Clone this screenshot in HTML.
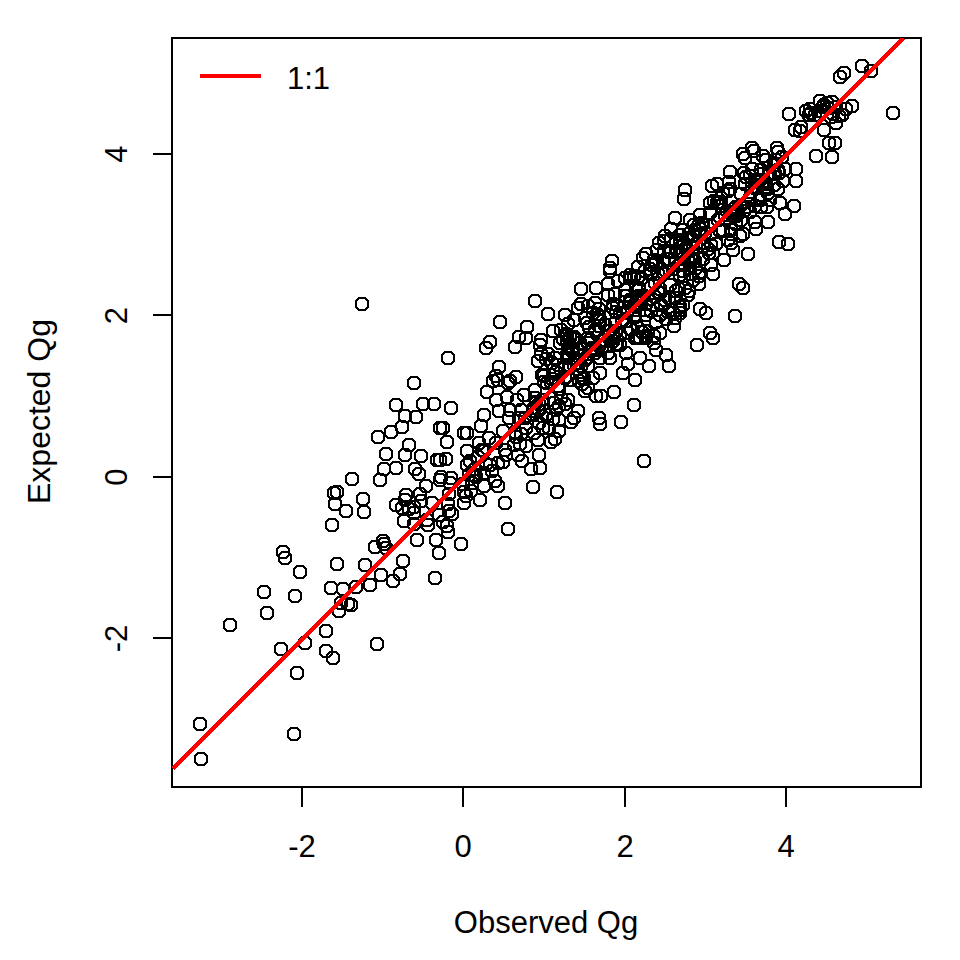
<!DOCTYPE html>
<html><head><meta charset="utf-8"><style>
html,body{margin:0;padding:0;background:#fff;width:960px;height:960px;overflow:hidden}
svg{display:block}
text{font-family:"Liberation Sans",sans-serif;font-size:31px;fill:#000}
</style></head><body>
<svg width="960" height="960" viewBox="0 0 960 960">
<rect x="0" y="0" width="960" height="960" fill="#fff"/>
<g fill="#000" shape-rendering="crispEdges"><path d="M197 752h8v1h1v1h1v1h1v8h-1v1h-1v1h-1v1h-8v-1h-1v-1h-1v-1h-1v-8h1v-1h1v-1h1zM198 754v1h-1v1h-1v6h1v1h1v1h6v-1h1v-1h1v-6h-1v-1h-1v-1zM196 717h8v1h1v1h1v1h1v8h-1v1h-1v1h-1v1h-8v-1h-1v-1h-1v-1h-1v-8h1v-1h1v-1h1zM197 719v1h-1v1h-1v6h1v1h1v1h6v-1h1v-1h1v-6h-1v-1h-1v-1zM290 727h8v1h1v1h1v1h1v8h-1v1h-1v1h-1v1h-8v-1h-1v-1h-1v-1h-1v-8h1v-1h1v-1h1zM291 729v1h-1v1h-1v6h1v1h1v1h6v-1h1v-1h1v-6h-1v-1h-1v-1zM293 666h8v1h1v1h1v1h1v8h-1v1h-1v1h-1v1h-8v-1h-1v-1h-1v-1h-1v-8h1v-1h1v-1h1zM294 668v1h-1v1h-1v6h1v1h1v1h6v-1h1v-1h1v-6h-1v-1h-1v-1zM226 618h8v1h1v1h1v1h1v8h-1v1h-1v1h-1v1h-8v-1h-1v-1h-1v-1h-1v-8h1v-1h1v-1h1zM227 620v1h-1v1h-1v6h1v1h1v1h6v-1h1v-1h1v-6h-1v-1h-1v-1zM277 642h8v1h1v1h1v1h1v8h-1v1h-1v1h-1v1h-8v-1h-1v-1h-1v-1h-1v-8h1v-1h1v-1h1zM278 644v1h-1v1h-1v6h1v1h1v1h6v-1h1v-1h1v-6h-1v-1h-1v-1zM301 636h8v1h1v1h1v1h1v8h-1v1h-1v1h-1v1h-8v-1h-1v-1h-1v-1h-1v-8h1v-1h1v-1h1zM302 638v1h-1v1h-1v6h1v1h1v1h6v-1h1v-1h1v-6h-1v-1h-1v-1zM322 624h8v1h1v1h1v1h1v8h-1v1h-1v1h-1v1h-8v-1h-1v-1h-1v-1h-1v-8h1v-1h1v-1h1zM323 626v1h-1v1h-1v6h1v1h1v1h6v-1h1v-1h1v-6h-1v-1h-1v-1zM322 644h8v1h1v1h1v1h1v8h-1v1h-1v1h-1v1h-8v-1h-1v-1h-1v-1h-1v-8h1v-1h1v-1h1zM323 646v1h-1v1h-1v6h1v1h1v1h6v-1h1v-1h1v-6h-1v-1h-1v-1zM329 651h8v1h1v1h1v1h1v8h-1v1h-1v1h-1v1h-8v-1h-1v-1h-1v-1h-1v-8h1v-1h1v-1h1zM330 653v1h-1v1h-1v6h1v1h1v1h6v-1h1v-1h1v-6h-1v-1h-1v-1zM373 637h8v1h1v1h1v1h1v8h-1v1h-1v1h-1v1h-8v-1h-1v-1h-1v-1h-1v-8h1v-1h1v-1h1zM374 639v1h-1v1h-1v6h1v1h1v1h6v-1h1v-1h1v-6h-1v-1h-1v-1zM260 585h8v1h1v1h1v1h1v8h-1v1h-1v1h-1v1h-8v-1h-1v-1h-1v-1h-1v-8h1v-1h1v-1h1zM261 587v1h-1v1h-1v6h1v1h1v1h6v-1h1v-1h1v-6h-1v-1h-1v-1zM263 606h8v1h1v1h1v1h1v8h-1v1h-1v1h-1v1h-8v-1h-1v-1h-1v-1h-1v-8h1v-1h1v-1h1zM264 608v1h-1v1h-1v6h1v1h1v1h6v-1h1v-1h1v-6h-1v-1h-1v-1zM291 589h8v1h1v1h1v1h1v8h-1v1h-1v1h-1v1h-8v-1h-1v-1h-1v-1h-1v-8h1v-1h1v-1h1zM292 591v1h-1v1h-1v6h1v1h1v1h6v-1h1v-1h1v-6h-1v-1h-1v-1zM296 565h8v1h1v1h1v1h1v8h-1v1h-1v1h-1v1h-8v-1h-1v-1h-1v-1h-1v-8h1v-1h1v-1h1zM297 567v1h-1v1h-1v6h1v1h1v1h6v-1h1v-1h1v-6h-1v-1h-1v-1zM279 545h8v1h1v1h1v1h1v8h-1v1h-1v1h-1v1h-8v-1h-1v-1h-1v-1h-1v-8h1v-1h1v-1h1zM280 547v1h-1v1h-1v6h1v1h1v1h6v-1h1v-1h1v-6h-1v-1h-1v-1zM281 551h8v1h1v1h1v1h1v8h-1v1h-1v1h-1v1h-8v-1h-1v-1h-1v-1h-1v-8h1v-1h1v-1h1zM282 553v1h-1v1h-1v6h1v1h1v1h6v-1h1v-1h1v-6h-1v-1h-1v-1zM328 518h8v1h1v1h1v1h1v8h-1v1h-1v1h-1v1h-8v-1h-1v-1h-1v-1h-1v-8h1v-1h1v-1h1zM329 520v1h-1v1h-1v6h1v1h1v1h6v-1h1v-1h1v-6h-1v-1h-1v-1zM333 557h8v1h1v1h1v1h1v8h-1v1h-1v1h-1v1h-8v-1h-1v-1h-1v-1h-1v-8h1v-1h1v-1h1zM334 559v1h-1v1h-1v6h1v1h1v1h6v-1h1v-1h1v-6h-1v-1h-1v-1zM327 581h8v1h1v1h1v1h1v8h-1v1h-1v1h-1v1h-8v-1h-1v-1h-1v-1h-1v-8h1v-1h1v-1h1zM328 583v1h-1v1h-1v6h1v1h1v1h6v-1h1v-1h1v-6h-1v-1h-1v-1zM339 582h8v1h1v1h1v1h1v8h-1v1h-1v1h-1v1h-8v-1h-1v-1h-1v-1h-1v-8h1v-1h1v-1h1zM340 584v1h-1v1h-1v6h1v1h1v1h6v-1h1v-1h1v-6h-1v-1h-1v-1zM352 580h8v1h1v1h1v1h1v8h-1v1h-1v1h-1v1h-8v-1h-1v-1h-1v-1h-1v-8h1v-1h1v-1h1zM353 582v1h-1v1h-1v6h1v1h1v1h6v-1h1v-1h1v-6h-1v-1h-1v-1zM366 578h8v1h1v1h1v1h1v8h-1v1h-1v1h-1v1h-8v-1h-1v-1h-1v-1h-1v-8h1v-1h1v-1h1zM367 580v1h-1v1h-1v6h1v1h1v1h6v-1h1v-1h1v-6h-1v-1h-1v-1zM361 558h8v1h1v1h1v1h1v8h-1v1h-1v1h-1v1h-8v-1h-1v-1h-1v-1h-1v-8h1v-1h1v-1h1zM362 560v1h-1v1h-1v6h1v1h1v1h6v-1h1v-1h1v-6h-1v-1h-1v-1zM377 568h8v1h1v1h1v1h1v8h-1v1h-1v1h-1v1h-8v-1h-1v-1h-1v-1h-1v-8h1v-1h1v-1h1zM378 570v1h-1v1h-1v6h1v1h1v1h6v-1h1v-1h1v-6h-1v-1h-1v-1zM389 574h8v1h1v1h1v1h1v8h-1v1h-1v1h-1v1h-8v-1h-1v-1h-1v-1h-1v-8h1v-1h1v-1h1zM390 576v1h-1v1h-1v6h1v1h1v1h6v-1h1v-1h1v-6h-1v-1h-1v-1zM396 567h8v1h1v1h1v1h1v8h-1v1h-1v1h-1v1h-8v-1h-1v-1h-1v-1h-1v-8h1v-1h1v-1h1zM397 569v1h-1v1h-1v6h1v1h1v1h6v-1h1v-1h1v-6h-1v-1h-1v-1zM399 554h8v1h1v1h1v1h1v8h-1v1h-1v1h-1v1h-8v-1h-1v-1h-1v-1h-1v-8h1v-1h1v-1h1zM400 556v1h-1v1h-1v6h1v1h1v1h6v-1h1v-1h1v-6h-1v-1h-1v-1zM371 540h8v1h1v1h1v1h1v8h-1v1h-1v1h-1v1h-8v-1h-1v-1h-1v-1h-1v-8h1v-1h1v-1h1zM372 542v1h-1v1h-1v6h1v1h1v1h6v-1h1v-1h1v-6h-1v-1h-1v-1zM379 534h8v1h1v1h1v1h1v8h-1v1h-1v1h-1v1h-8v-1h-1v-1h-1v-1h-1v-8h1v-1h1v-1h1zM380 536v1h-1v1h-1v6h1v1h1v1h6v-1h1v-1h1v-6h-1v-1h-1v-1zM382 541h8v1h1v1h1v1h1v8h-1v1h-1v1h-1v1h-8v-1h-1v-1h-1v-1h-1v-8h1v-1h1v-1h1zM383 543v1h-1v1h-1v6h1v1h1v1h6v-1h1v-1h1v-6h-1v-1h-1v-1zM400 514h8v1h1v1h1v1h1v8h-1v1h-1v1h-1v1h-8v-1h-1v-1h-1v-1h-1v-8h1v-1h1v-1h1zM401 516v1h-1v1h-1v6h1v1h1v1h6v-1h1v-1h1v-6h-1v-1h-1v-1zM337 596h8v1h1v1h1v1h1v8h-1v1h-1v1h-1v1h-8v-1h-1v-1h-1v-1h-1v-8h1v-1h1v-1h1zM338 598v1h-1v1h-1v6h1v1h1v1h6v-1h1v-1h1v-6h-1v-1h-1v-1zM344 597h8v1h1v1h1v1h1v8h-1v1h-1v1h-1v1h-8v-1h-1v-1h-1v-1h-1v-8h1v-1h1v-1h1zM345 599v1h-1v1h-1v6h1v1h1v1h6v-1h1v-1h1v-6h-1v-1h-1v-1zM347 598h8v1h1v1h1v1h1v8h-1v1h-1v1h-1v1h-8v-1h-1v-1h-1v-1h-1v-8h1v-1h1v-1h1zM348 600v1h-1v1h-1v6h1v1h1v1h6v-1h1v-1h1v-6h-1v-1h-1v-1zM335 604h8v1h1v1h1v1h1v8h-1v1h-1v1h-1v1h-8v-1h-1v-1h-1v-1h-1v-8h1v-1h1v-1h1zM336 606v1h-1v1h-1v6h1v1h1v1h6v-1h1v-1h1v-6h-1v-1h-1v-1zM342 504h8v1h1v1h1v1h1v8h-1v1h-1v1h-1v1h-8v-1h-1v-1h-1v-1h-1v-8h1v-1h1v-1h1zM343 506v1h-1v1h-1v6h1v1h1v1h6v-1h1v-1h1v-6h-1v-1h-1v-1zM360 505h8v1h1v1h1v1h1v8h-1v1h-1v1h-1v1h-8v-1h-1v-1h-1v-1h-1v-8h1v-1h1v-1h1zM361 507v1h-1v1h-1v6h1v1h1v1h6v-1h1v-1h1v-6h-1v-1h-1v-1zM358 297h8v1h1v1h1v1h1v8h-1v1h-1v1h-1v1h-8v-1h-1v-1h-1v-1h-1v-8h1v-1h1v-1h1zM359 299v1h-1v1h-1v6h1v1h1v1h6v-1h1v-1h1v-6h-1v-1h-1v-1zM392 398h8v1h1v1h1v1h1v8h-1v1h-1v1h-1v1h-8v-1h-1v-1h-1v-1h-1v-8h1v-1h1v-1h1zM393 400v1h-1v1h-1v6h1v1h1v1h6v-1h1v-1h1v-6h-1v-1h-1v-1zM401 409h8v1h1v1h1v1h1v8h-1v1h-1v1h-1v1h-8v-1h-1v-1h-1v-1h-1v-8h1v-1h1v-1h1zM402 411v1h-1v1h-1v6h1v1h1v1h6v-1h1v-1h1v-6h-1v-1h-1v-1zM398 420h8v1h1v1h1v1h1v8h-1v1h-1v1h-1v1h-8v-1h-1v-1h-1v-1h-1v-8h1v-1h1v-1h1zM399 422v1h-1v1h-1v6h1v1h1v1h6v-1h1v-1h1v-6h-1v-1h-1v-1zM387 425h8v1h1v1h1v1h1v8h-1v1h-1v1h-1v1h-8v-1h-1v-1h-1v-1h-1v-8h1v-1h1v-1h1zM388 427v1h-1v1h-1v6h1v1h1v1h6v-1h1v-1h1v-6h-1v-1h-1v-1zM374 430h8v1h1v1h1v1h1v8h-1v1h-1v1h-1v1h-8v-1h-1v-1h-1v-1h-1v-8h1v-1h1v-1h1zM375 432v1h-1v1h-1v6h1v1h1v1h6v-1h1v-1h1v-6h-1v-1h-1v-1zM405 438h8v1h1v1h1v1h1v8h-1v1h-1v1h-1v1h-8v-1h-1v-1h-1v-1h-1v-8h1v-1h1v-1h1zM406 440v1h-1v1h-1v6h1v1h1v1h6v-1h1v-1h1v-6h-1v-1h-1v-1zM382 447h8v1h1v1h1v1h1v8h-1v1h-1v1h-1v1h-8v-1h-1v-1h-1v-1h-1v-8h1v-1h1v-1h1zM383 449v1h-1v1h-1v6h1v1h1v1h6v-1h1v-1h1v-6h-1v-1h-1v-1zM401 448h8v1h1v1h1v1h1v8h-1v1h-1v1h-1v1h-8v-1h-1v-1h-1v-1h-1v-8h1v-1h1v-1h1zM402 450v1h-1v1h-1v6h1v1h1v1h6v-1h1v-1h1v-6h-1v-1h-1v-1zM380 462h8v1h1v1h1v1h1v8h-1v1h-1v1h-1v1h-8v-1h-1v-1h-1v-1h-1v-8h1v-1h1v-1h1zM381 464v1h-1v1h-1v6h1v1h1v1h6v-1h1v-1h1v-6h-1v-1h-1v-1zM392 461h8v1h1v1h1v1h1v8h-1v1h-1v1h-1v1h-8v-1h-1v-1h-1v-1h-1v-8h1v-1h1v-1h1zM393 463v1h-1v1h-1v6h1v1h1v1h6v-1h1v-1h1v-6h-1v-1h-1v-1zM376 473h8v1h1v1h1v1h1v8h-1v1h-1v1h-1v1h-8v-1h-1v-1h-1v-1h-1v-8h1v-1h1v-1h1zM377 475v1h-1v1h-1v6h1v1h1v1h6v-1h1v-1h1v-6h-1v-1h-1v-1zM348 472h8v1h1v1h1v1h1v8h-1v1h-1v1h-1v1h-8v-1h-1v-1h-1v-1h-1v-8h1v-1h1v-1h1zM349 474v1h-1v1h-1v6h1v1h1v1h6v-1h1v-1h1v-6h-1v-1h-1v-1zM330 486h8v1h1v1h1v1h1v8h-1v1h-1v1h-1v1h-8v-1h-1v-1h-1v-1h-1v-8h1v-1h1v-1h1zM331 488v1h-1v1h-1v6h1v1h1v1h6v-1h1v-1h1v-6h-1v-1h-1v-1zM333 485h8v1h1v1h1v1h1v8h-1v1h-1v1h-1v1h-8v-1h-1v-1h-1v-1h-1v-8h1v-1h1v-1h1zM334 487v1h-1v1h-1v6h1v1h1v1h6v-1h1v-1h1v-6h-1v-1h-1v-1zM331 497h8v1h1v1h1v1h1v8h-1v1h-1v1h-1v1h-8v-1h-1v-1h-1v-1h-1v-8h1v-1h1v-1h1zM332 499v1h-1v1h-1v6h1v1h1v1h6v-1h1v-1h1v-6h-1v-1h-1v-1zM359 492h8v1h1v1h1v1h1v8h-1v1h-1v1h-1v1h-8v-1h-1v-1h-1v-1h-1v-8h1v-1h1v-1h1zM360 494v1h-1v1h-1v6h1v1h1v1h6v-1h1v-1h1v-6h-1v-1h-1v-1zM392 498h8v1h1v1h1v1h1v8h-1v1h-1v1h-1v1h-8v-1h-1v-1h-1v-1h-1v-8h1v-1h1v-1h1zM393 500v1h-1v1h-1v6h1v1h1v1h6v-1h1v-1h1v-6h-1v-1h-1v-1zM402 488h8v1h1v1h1v1h1v8h-1v1h-1v1h-1v1h-8v-1h-1v-1h-1v-1h-1v-8h1v-1h1v-1h1zM403 490v1h-1v1h-1v6h1v1h1v1h6v-1h1v-1h1v-6h-1v-1h-1v-1zM401 493h8v1h1v1h1v1h1v8h-1v1h-1v1h-1v1h-8v-1h-1v-1h-1v-1h-1v-8h1v-1h1v-1h1zM402 495v1h-1v1h-1v6h1v1h1v1h6v-1h1v-1h1v-6h-1v-1h-1v-1zM398 501h8v1h1v1h1v1h1v8h-1v1h-1v1h-1v1h-8v-1h-1v-1h-1v-1h-1v-8h1v-1h1v-1h1zM399 503v1h-1v1h-1v6h1v1h1v1h6v-1h1v-1h1v-6h-1v-1h-1v-1zM405 502h8v1h1v1h1v1h1v8h-1v1h-1v1h-1v1h-8v-1h-1v-1h-1v-1h-1v-8h1v-1h1v-1h1zM406 504v1h-1v1h-1v6h1v1h1v1h6v-1h1v-1h1v-6h-1v-1h-1v-1zM380 537h8v1h1v1h1v1h1v8h-1v1h-1v1h-1v1h-8v-1h-1v-1h-1v-1h-1v-8h1v-1h1v-1h1zM381 539v1h-1v1h-1v6h1v1h1v1h6v-1h1v-1h1v-6h-1v-1h-1v-1zM444 351h8v1h1v1h1v1h1v8h-1v1h-1v1h-1v1h-8v-1h-1v-1h-1v-1h-1v-8h1v-1h1v-1h1zM445 353v1h-1v1h-1v6h1v1h1v1h6v-1h1v-1h1v-6h-1v-1h-1v-1zM496 315h8v1h1v1h1v1h1v8h-1v1h-1v1h-1v1h-8v-1h-1v-1h-1v-1h-1v-8h1v-1h1v-1h1zM497 317v1h-1v1h-1v6h1v1h1v1h6v-1h1v-1h1v-6h-1v-1h-1v-1zM486 335h8v1h1v1h1v1h1v8h-1v1h-1v1h-1v1h-8v-1h-1v-1h-1v-1h-1v-8h1v-1h1v-1h1zM487 337v1h-1v1h-1v6h1v1h1v1h6v-1h1v-1h1v-6h-1v-1h-1v-1zM482 341h8v1h1v1h1v1h1v8h-1v1h-1v1h-1v1h-8v-1h-1v-1h-1v-1h-1v-8h1v-1h1v-1h1zM483 343v1h-1v1h-1v6h1v1h1v1h6v-1h1v-1h1v-6h-1v-1h-1v-1zM511 340h8v1h1v1h1v1h1v8h-1v1h-1v1h-1v1h-8v-1h-1v-1h-1v-1h-1v-8h1v-1h1v-1h1zM512 342v1h-1v1h-1v6h1v1h1v1h6v-1h1v-1h1v-6h-1v-1h-1v-1zM515 330h8v1h1v1h1v1h1v8h-1v1h-1v1h-1v1h-8v-1h-1v-1h-1v-1h-1v-8h1v-1h1v-1h1zM516 332v1h-1v1h-1v6h1v1h1v1h6v-1h1v-1h1v-6h-1v-1h-1v-1zM523 320h8v1h1v1h1v1h1v8h-1v1h-1v1h-1v1h-8v-1h-1v-1h-1v-1h-1v-8h1v-1h1v-1h1zM524 322v1h-1v1h-1v6h1v1h1v1h6v-1h1v-1h1v-6h-1v-1h-1v-1zM522 331h8v1h1v1h1v1h1v8h-1v1h-1v1h-1v1h-8v-1h-1v-1h-1v-1h-1v-8h1v-1h1v-1h1zM523 333v1h-1v1h-1v6h1v1h1v1h6v-1h1v-1h1v-6h-1v-1h-1v-1zM410 376h8v1h1v1h1v1h1v8h-1v1h-1v1h-1v1h-8v-1h-1v-1h-1v-1h-1v-8h1v-1h1v-1h1zM411 378v1h-1v1h-1v6h1v1h1v1h6v-1h1v-1h1v-6h-1v-1h-1v-1zM495 360h8v1h1v1h1v1h1v8h-1v1h-1v1h-1v1h-8v-1h-1v-1h-1v-1h-1v-8h1v-1h1v-1h1zM496 362v1h-1v1h-1v6h1v1h1v1h6v-1h1v-1h1v-6h-1v-1h-1v-1zM492 369h8v1h1v1h1v1h1v8h-1v1h-1v1h-1v1h-8v-1h-1v-1h-1v-1h-1v-8h1v-1h1v-1h1zM493 371v1h-1v1h-1v6h1v1h1v1h6v-1h1v-1h1v-6h-1v-1h-1v-1zM489 374h8v1h1v1h1v1h1v8h-1v1h-1v1h-1v1h-8v-1h-1v-1h-1v-1h-1v-8h1v-1h1v-1h1zM490 376v1h-1v1h-1v6h1v1h1v1h6v-1h1v-1h1v-6h-1v-1h-1v-1zM512 370h8v1h1v1h1v1h1v8h-1v1h-1v1h-1v1h-8v-1h-1v-1h-1v-1h-1v-8h1v-1h1v-1h1zM513 372v1h-1v1h-1v6h1v1h1v1h6v-1h1v-1h1v-6h-1v-1h-1v-1zM506 374h8v1h1v1h1v1h1v8h-1v1h-1v1h-1v1h-8v-1h-1v-1h-1v-1h-1v-8h1v-1h1v-1h1zM507 376v1h-1v1h-1v6h1v1h1v1h6v-1h1v-1h1v-6h-1v-1h-1v-1zM504 376h8v1h1v1h1v1h1v8h-1v1h-1v1h-1v1h-8v-1h-1v-1h-1v-1h-1v-8h1v-1h1v-1h1zM505 378v1h-1v1h-1v6h1v1h1v1h6v-1h1v-1h1v-6h-1v-1h-1v-1zM494 373h8v1h1v1h1v1h1v8h-1v1h-1v1h-1v1h-8v-1h-1v-1h-1v-1h-1v-8h1v-1h1v-1h1zM495 375v1h-1v1h-1v6h1v1h1v1h6v-1h1v-1h1v-6h-1v-1h-1v-1zM483 385h8v1h1v1h1v1h1v8h-1v1h-1v1h-1v1h-8v-1h-1v-1h-1v-1h-1v-8h1v-1h1v-1h1zM484 387v1h-1v1h-1v6h1v1h1v1h6v-1h1v-1h1v-6h-1v-1h-1v-1zM503 390h8v1h1v1h1v1h1v8h-1v1h-1v1h-1v1h-8v-1h-1v-1h-1v-1h-1v-8h1v-1h1v-1h1zM504 392v1h-1v1h-1v6h1v1h1v1h6v-1h1v-1h1v-6h-1v-1h-1v-1zM419 397h8v1h1v1h1v1h1v8h-1v1h-1v1h-1v1h-8v-1h-1v-1h-1v-1h-1v-8h1v-1h1v-1h1zM420 399v1h-1v1h-1v6h1v1h1v1h6v-1h1v-1h1v-6h-1v-1h-1v-1zM430 397h8v1h1v1h1v1h1v8h-1v1h-1v1h-1v1h-8v-1h-1v-1h-1v-1h-1v-8h1v-1h1v-1h1zM431 399v1h-1v1h-1v6h1v1h1v1h6v-1h1v-1h1v-6h-1v-1h-1v-1zM447 401h8v1h1v1h1v1h1v8h-1v1h-1v1h-1v1h-8v-1h-1v-1h-1v-1h-1v-8h1v-1h1v-1h1zM448 403v1h-1v1h-1v6h1v1h1v1h6v-1h1v-1h1v-6h-1v-1h-1v-1zM412 410h8v1h1v1h1v1h1v8h-1v1h-1v1h-1v1h-8v-1h-1v-1h-1v-1h-1v-8h1v-1h1v-1h1zM413 412v1h-1v1h-1v6h1v1h1v1h6v-1h1v-1h1v-6h-1v-1h-1v-1zM436 421h8v1h1v1h1v1h1v8h-1v1h-1v1h-1v1h-8v-1h-1v-1h-1v-1h-1v-8h1v-1h1v-1h1zM437 423v1h-1v1h-1v6h1v1h1v1h6v-1h1v-1h1v-6h-1v-1h-1v-1zM439 421h8v1h1v1h1v1h1v8h-1v1h-1v1h-1v1h-8v-1h-1v-1h-1v-1h-1v-8h1v-1h1v-1h1zM440 423v1h-1v1h-1v6h1v1h1v1h6v-1h1v-1h1v-6h-1v-1h-1v-1zM443 435h8v1h1v1h1v1h1v8h-1v1h-1v1h-1v1h-8v-1h-1v-1h-1v-1h-1v-8h1v-1h1v-1h1zM444 437v1h-1v1h-1v6h1v1h1v1h6v-1h1v-1h1v-6h-1v-1h-1v-1zM460 426h8v1h1v1h1v1h1v8h-1v1h-1v1h-1v1h-8v-1h-1v-1h-1v-1h-1v-8h1v-1h1v-1h1zM461 428v1h-1v1h-1v6h1v1h1v1h6v-1h1v-1h1v-6h-1v-1h-1v-1zM463 426h8v1h1v1h1v1h1v8h-1v1h-1v1h-1v1h-8v-1h-1v-1h-1v-1h-1v-8h1v-1h1v-1h1zM464 428v1h-1v1h-1v6h1v1h1v1h6v-1h1v-1h1v-6h-1v-1h-1v-1zM480 408h8v1h1v1h1v1h1v8h-1v1h-1v1h-1v1h-8v-1h-1v-1h-1v-1h-1v-8h1v-1h1v-1h1zM481 410v1h-1v1h-1v6h1v1h1v1h6v-1h1v-1h1v-6h-1v-1h-1v-1zM477 419h8v1h1v1h1v1h1v8h-1v1h-1v1h-1v1h-8v-1h-1v-1h-1v-1h-1v-8h1v-1h1v-1h1zM478 421v1h-1v1h-1v6h1v1h1v1h6v-1h1v-1h1v-6h-1v-1h-1v-1zM495 404h8v1h1v1h1v1h1v8h-1v1h-1v1h-1v1h-8v-1h-1v-1h-1v-1h-1v-8h1v-1h1v-1h1zM496 406v1h-1v1h-1v6h1v1h1v1h6v-1h1v-1h1v-6h-1v-1h-1v-1zM505 411h8v1h1v1h1v1h1v8h-1v1h-1v1h-1v1h-8v-1h-1v-1h-1v-1h-1v-8h1v-1h1v-1h1zM506 413v1h-1v1h-1v6h1v1h1v1h6v-1h1v-1h1v-6h-1v-1h-1v-1zM506 403h8v1h1v1h1v1h1v8h-1v1h-1v1h-1v1h-8v-1h-1v-1h-1v-1h-1v-8h1v-1h1v-1h1zM507 405v1h-1v1h-1v6h1v1h1v1h6v-1h1v-1h1v-6h-1v-1h-1v-1zM517 403h8v1h1v1h1v1h1v8h-1v1h-1v1h-1v1h-8v-1h-1v-1h-1v-1h-1v-8h1v-1h1v-1h1zM518 405v1h-1v1h-1v6h1v1h1v1h6v-1h1v-1h1v-6h-1v-1h-1v-1zM520 388h8v1h1v1h1v1h1v8h-1v1h-1v1h-1v1h-8v-1h-1v-1h-1v-1h-1v-8h1v-1h1v-1h1zM521 390v1h-1v1h-1v6h1v1h1v1h6v-1h1v-1h1v-6h-1v-1h-1v-1zM417 449h8v1h1v1h1v1h1v8h-1v1h-1v1h-1v1h-8v-1h-1v-1h-1v-1h-1v-8h1v-1h1v-1h1zM418 451v1h-1v1h-1v6h1v1h1v1h6v-1h1v-1h1v-6h-1v-1h-1v-1zM433 453h8v1h1v1h1v1h1v8h-1v1h-1v1h-1v1h-8v-1h-1v-1h-1v-1h-1v-8h1v-1h1v-1h1zM434 455v1h-1v1h-1v6h1v1h1v1h6v-1h1v-1h1v-6h-1v-1h-1v-1zM442 452h8v1h1v1h1v1h1v8h-1v1h-1v1h-1v1h-8v-1h-1v-1h-1v-1h-1v-8h1v-1h1v-1h1zM443 454v1h-1v1h-1v6h1v1h1v1h6v-1h1v-1h1v-6h-1v-1h-1v-1zM436 453h8v1h1v1h1v1h1v8h-1v1h-1v1h-1v1h-8v-1h-1v-1h-1v-1h-1v-8h1v-1h1v-1h1zM437 455v1h-1v1h-1v6h1v1h1v1h6v-1h1v-1h1v-6h-1v-1h-1v-1zM415 467h8v1h1v1h1v1h1v8h-1v1h-1v1h-1v1h-8v-1h-1v-1h-1v-1h-1v-8h1v-1h1v-1h1zM416 469v1h-1v1h-1v6h1v1h1v1h6v-1h1v-1h1v-6h-1v-1h-1v-1zM463 444h8v1h1v1h1v1h1v8h-1v1h-1v1h-1v1h-8v-1h-1v-1h-1v-1h-1v-8h1v-1h1v-1h1zM464 446v1h-1v1h-1v6h1v1h1v1h6v-1h1v-1h1v-6h-1v-1h-1v-1zM475 436h8v1h1v1h1v1h1v8h-1v1h-1v1h-1v1h-8v-1h-1v-1h-1v-1h-1v-8h1v-1h1v-1h1zM476 438v1h-1v1h-1v6h1v1h1v1h6v-1h1v-1h1v-6h-1v-1h-1v-1zM485 431h8v1h1v1h1v1h1v8h-1v1h-1v1h-1v1h-8v-1h-1v-1h-1v-1h-1v-8h1v-1h1v-1h1zM486 433v1h-1v1h-1v6h1v1h1v1h6v-1h1v-1h1v-6h-1v-1h-1v-1zM499 424h8v1h1v1h1v1h1v8h-1v1h-1v1h-1v1h-8v-1h-1v-1h-1v-1h-1v-8h1v-1h1v-1h1zM500 426v1h-1v1h-1v6h1v1h1v1h6v-1h1v-1h1v-6h-1v-1h-1v-1zM480 444h8v1h1v1h1v1h1v8h-1v1h-1v1h-1v1h-8v-1h-1v-1h-1v-1h-1v-8h1v-1h1v-1h1zM481 446v1h-1v1h-1v6h1v1h1v1h6v-1h1v-1h1v-6h-1v-1h-1v-1zM474 450h8v1h1v1h1v1h1v8h-1v1h-1v1h-1v1h-8v-1h-1v-1h-1v-1h-1v-8h1v-1h1v-1h1zM475 452v1h-1v1h-1v6h1v1h1v1h6v-1h1v-1h1v-6h-1v-1h-1v-1zM471 462h8v1h1v1h1v1h1v8h-1v1h-1v1h-1v1h-8v-1h-1v-1h-1v-1h-1v-8h1v-1h1v-1h1zM472 464v1h-1v1h-1v6h1v1h1v1h6v-1h1v-1h1v-6h-1v-1h-1v-1zM480 466h8v1h1v1h1v1h1v8h-1v1h-1v1h-1v1h-8v-1h-1v-1h-1v-1h-1v-8h1v-1h1v-1h1zM481 468v1h-1v1h-1v6h1v1h1v1h6v-1h1v-1h1v-6h-1v-1h-1v-1zM488 464h8v1h1v1h1v1h1v8h-1v1h-1v1h-1v1h-8v-1h-1v-1h-1v-1h-1v-8h1v-1h1v-1h1zM489 466v1h-1v1h-1v6h1v1h1v1h6v-1h1v-1h1v-6h-1v-1h-1v-1zM502 448h8v1h1v1h1v1h1v8h-1v1h-1v1h-1v1h-8v-1h-1v-1h-1v-1h-1v-8h1v-1h1v-1h1zM503 450v1h-1v1h-1v6h1v1h1v1h6v-1h1v-1h1v-6h-1v-1h-1v-1zM499 455h8v1h1v1h1v1h1v8h-1v1h-1v1h-1v1h-8v-1h-1v-1h-1v-1h-1v-8h1v-1h1v-1h1zM500 457v1h-1v1h-1v6h1v1h1v1h6v-1h1v-1h1v-6h-1v-1h-1v-1zM514 448h8v1h1v1h1v1h1v8h-1v1h-1v1h-1v1h-8v-1h-1v-1h-1v-1h-1v-8h1v-1h1v-1h1zM515 450v1h-1v1h-1v6h1v1h1v1h6v-1h1v-1h1v-6h-1v-1h-1v-1zM516 437h8v1h1v1h1v1h1v8h-1v1h-1v1h-1v1h-8v-1h-1v-1h-1v-1h-1v-8h1v-1h1v-1h1zM517 439v1h-1v1h-1v6h1v1h1v1h6v-1h1v-1h1v-6h-1v-1h-1v-1zM522 439h8v1h1v1h1v1h1v8h-1v1h-1v1h-1v1h-8v-1h-1v-1h-1v-1h-1v-8h1v-1h1v-1h1zM523 441v1h-1v1h-1v6h1v1h1v1h6v-1h1v-1h1v-6h-1v-1h-1v-1zM522 421h8v1h1v1h1v1h1v8h-1v1h-1v1h-1v1h-8v-1h-1v-1h-1v-1h-1v-8h1v-1h1v-1h1zM523 423v1h-1v1h-1v6h1v1h1v1h6v-1h1v-1h1v-6h-1v-1h-1v-1zM446 476h8v1h1v1h1v1h1v8h-1v1h-1v1h-1v1h-8v-1h-1v-1h-1v-1h-1v-8h1v-1h1v-1h1zM447 478v1h-1v1h-1v6h1v1h1v1h6v-1h1v-1h1v-6h-1v-1h-1v-1zM459 477h8v1h1v1h1v1h1v8h-1v1h-1v1h-1v1h-8v-1h-1v-1h-1v-1h-1v-8h1v-1h1v-1h1zM460 479v1h-1v1h-1v6h1v1h1v1h6v-1h1v-1h1v-6h-1v-1h-1v-1zM416 487h8v1h1v1h1v1h1v8h-1v1h-1v1h-1v1h-8v-1h-1v-1h-1v-1h-1v-8h1v-1h1v-1h1zM417 489v1h-1v1h-1v6h1v1h1v1h6v-1h1v-1h1v-6h-1v-1h-1v-1zM410 500h8v1h1v1h1v1h1v8h-1v1h-1v1h-1v1h-8v-1h-1v-1h-1v-1h-1v-8h1v-1h1v-1h1zM411 502v1h-1v1h-1v6h1v1h1v1h6v-1h1v-1h1v-6h-1v-1h-1v-1zM428 496h8v1h1v1h1v1h1v8h-1v1h-1v1h-1v1h-8v-1h-1v-1h-1v-1h-1v-8h1v-1h1v-1h1zM429 498v1h-1v1h-1v6h1v1h1v1h6v-1h1v-1h1v-6h-1v-1h-1v-1zM444 497h8v1h1v1h1v1h1v8h-1v1h-1v1h-1v1h-8v-1h-1v-1h-1v-1h-1v-8h1v-1h1v-1h1zM445 499v1h-1v1h-1v6h1v1h1v1h6v-1h1v-1h1v-6h-1v-1h-1v-1zM445 487h8v1h1v1h1v1h1v8h-1v1h-1v1h-1v1h-8v-1h-1v-1h-1v-1h-1v-8h1v-1h1v-1h1zM446 489v1h-1v1h-1v6h1v1h1v1h6v-1h1v-1h1v-6h-1v-1h-1v-1zM462 489h8v1h1v1h1v1h1v8h-1v1h-1v1h-1v1h-8v-1h-1v-1h-1v-1h-1v-8h1v-1h1v-1h1zM463 491v1h-1v1h-1v6h1v1h1v1h6v-1h1v-1h1v-6h-1v-1h-1v-1zM460 496h8v1h1v1h1v1h1v8h-1v1h-1v1h-1v1h-8v-1h-1v-1h-1v-1h-1v-8h1v-1h1v-1h1zM461 498v1h-1v1h-1v6h1v1h1v1h6v-1h1v-1h1v-6h-1v-1h-1v-1zM476 493h8v1h1v1h1v1h1v8h-1v1h-1v1h-1v1h-8v-1h-1v-1h-1v-1h-1v-8h1v-1h1v-1h1zM477 495v1h-1v1h-1v6h1v1h1v1h6v-1h1v-1h1v-6h-1v-1h-1v-1zM480 479h8v1h1v1h1v1h1v8h-1v1h-1v1h-1v1h-8v-1h-1v-1h-1v-1h-1v-8h1v-1h1v-1h1zM481 481v1h-1v1h-1v6h1v1h1v1h6v-1h1v-1h1v-6h-1v-1h-1v-1zM494 479h8v1h1v1h1v1h1v8h-1v1h-1v1h-1v1h-8v-1h-1v-1h-1v-1h-1v-8h1v-1h1v-1h1zM495 481v1h-1v1h-1v6h1v1h1v1h6v-1h1v-1h1v-6h-1v-1h-1v-1zM501 496h8v1h1v1h1v1h1v8h-1v1h-1v1h-1v1h-8v-1h-1v-1h-1v-1h-1v-8h1v-1h1v-1h1zM502 498v1h-1v1h-1v6h1v1h1v1h6v-1h1v-1h1v-6h-1v-1h-1v-1zM467 484h8v1h1v1h1v1h1v8h-1v1h-1v1h-1v1h-8v-1h-1v-1h-1v-1h-1v-8h1v-1h1v-1h1zM468 486v1h-1v1h-1v6h1v1h1v1h6v-1h1v-1h1v-6h-1v-1h-1v-1zM486 458h8v1h1v1h1v1h1v8h-1v1h-1v1h-1v1h-8v-1h-1v-1h-1v-1h-1v-8h1v-1h1v-1h1zM487 460v1h-1v1h-1v6h1v1h1v1h6v-1h1v-1h1v-6h-1v-1h-1v-1zM494 456h8v1h1v1h1v1h1v8h-1v1h-1v1h-1v1h-8v-1h-1v-1h-1v-1h-1v-8h1v-1h1v-1h1zM495 458v1h-1v1h-1v6h1v1h1v1h6v-1h1v-1h1v-6h-1v-1h-1v-1zM513 393h8v1h1v1h1v1h1v8h-1v1h-1v1h-1v1h-8v-1h-1v-1h-1v-1h-1v-8h1v-1h1v-1h1zM514 395v1h-1v1h-1v6h1v1h1v1h6v-1h1v-1h1v-6h-1v-1h-1v-1zM521 411h8v1h1v1h1v1h1v8h-1v1h-1v1h-1v1h-8v-1h-1v-1h-1v-1h-1v-8h1v-1h1v-1h1zM522 413v1h-1v1h-1v6h1v1h1v1h6v-1h1v-1h1v-6h-1v-1h-1v-1zM597 389h8v1h1v1h1v1h1v8h-1v1h-1v1h-1v1h-8v-1h-1v-1h-1v-1h-1v-8h1v-1h1v-1h1zM598 391v1h-1v1h-1v6h1v1h1v1h6v-1h1v-1h1v-6h-1v-1h-1v-1zM610 385h8v1h1v1h1v1h1v8h-1v1h-1v1h-1v1h-8v-1h-1v-1h-1v-1h-1v-8h1v-1h1v-1h1zM611 387v1h-1v1h-1v6h1v1h1v1h6v-1h1v-1h1v-6h-1v-1h-1v-1zM630 398h8v1h1v1h1v1h1v8h-1v1h-1v1h-1v1h-8v-1h-1v-1h-1v-1h-1v-8h1v-1h1v-1h1zM631 400v1h-1v1h-1v6h1v1h1v1h6v-1h1v-1h1v-6h-1v-1h-1v-1zM595 411h8v1h1v1h1v1h1v8h-1v1h-1v1h-1v1h-8v-1h-1v-1h-1v-1h-1v-8h1v-1h1v-1h1zM596 413v1h-1v1h-1v6h1v1h1v1h6v-1h1v-1h1v-6h-1v-1h-1v-1zM596 417h8v1h1v1h1v1h1v8h-1v1h-1v1h-1v1h-8v-1h-1v-1h-1v-1h-1v-8h1v-1h1v-1h1zM597 419v1h-1v1h-1v6h1v1h1v1h6v-1h1v-1h1v-6h-1v-1h-1v-1zM617 415h8v1h1v1h1v1h1v8h-1v1h-1v1h-1v1h-8v-1h-1v-1h-1v-1h-1v-8h1v-1h1v-1h1zM618 417v1h-1v1h-1v6h1v1h1v1h6v-1h1v-1h1v-6h-1v-1h-1v-1zM640 454h8v1h1v1h1v1h1v8h-1v1h-1v1h-1v1h-8v-1h-1v-1h-1v-1h-1v-8h1v-1h1v-1h1zM641 456v1h-1v1h-1v6h1v1h1v1h6v-1h1v-1h1v-6h-1v-1h-1v-1zM553 485h8v1h1v1h1v1h1v8h-1v1h-1v1h-1v1h-8v-1h-1v-1h-1v-1h-1v-8h1v-1h1v-1h1zM554 487v1h-1v1h-1v6h1v1h1v1h6v-1h1v-1h1v-6h-1v-1h-1v-1zM529 480h8v1h1v1h1v1h1v8h-1v1h-1v1h-1v1h-8v-1h-1v-1h-1v-1h-1v-8h1v-1h1v-1h1zM530 482v1h-1v1h-1v6h1v1h1v1h6v-1h1v-1h1v-6h-1v-1h-1v-1zM535 448h8v1h1v1h1v1h1v8h-1v1h-1v1h-1v1h-8v-1h-1v-1h-1v-1h-1v-8h1v-1h1v-1h1zM536 450v1h-1v1h-1v6h1v1h1v1h6v-1h1v-1h1v-6h-1v-1h-1v-1zM536 461h8v1h1v1h1v1h1v8h-1v1h-1v1h-1v1h-8v-1h-1v-1h-1v-1h-1v-8h1v-1h1v-1h1zM537 463v1h-1v1h-1v6h1v1h1v1h6v-1h1v-1h1v-6h-1v-1h-1v-1zM527 462h8v1h1v1h1v1h1v8h-1v1h-1v1h-1v1h-8v-1h-1v-1h-1v-1h-1v-8h1v-1h1v-1h1zM528 464v1h-1v1h-1v6h1v1h1v1h6v-1h1v-1h1v-6h-1v-1h-1v-1zM574 404h8v1h1v1h1v1h1v8h-1v1h-1v1h-1v1h-8v-1h-1v-1h-1v-1h-1v-8h1v-1h1v-1h1zM575 406v1h-1v1h-1v6h1v1h1v1h6v-1h1v-1h1v-6h-1v-1h-1v-1zM570 411h8v1h1v1h1v1h1v8h-1v1h-1v1h-1v1h-8v-1h-1v-1h-1v-1h-1v-8h1v-1h1v-1h1zM571 413v1h-1v1h-1v6h1v1h1v1h6v-1h1v-1h1v-6h-1v-1h-1v-1zM567 415h8v1h1v1h1v1h1v8h-1v1h-1v1h-1v1h-8v-1h-1v-1h-1v-1h-1v-8h1v-1h1v-1h1zM568 417v1h-1v1h-1v6h1v1h1v1h6v-1h1v-1h1v-6h-1v-1h-1v-1zM555 424h8v1h1v1h1v1h1v8h-1v1h-1v1h-1v1h-8v-1h-1v-1h-1v-1h-1v-8h1v-1h1v-1h1zM556 426v1h-1v1h-1v6h1v1h1v1h6v-1h1v-1h1v-6h-1v-1h-1v-1zM547 435h8v1h1v1h1v1h1v8h-1v1h-1v1h-1v1h-8v-1h-1v-1h-1v-1h-1v-8h1v-1h1v-1h1zM548 437v1h-1v1h-1v6h1v1h1v1h6v-1h1v-1h1v-6h-1v-1h-1v-1zM564 393h8v1h1v1h1v1h1v8h-1v1h-1v1h-1v1h-8v-1h-1v-1h-1v-1h-1v-8h1v-1h1v-1h1zM565 395v1h-1v1h-1v6h1v1h1v1h6v-1h1v-1h1v-6h-1v-1h-1v-1zM561 397h8v1h1v1h1v1h1v8h-1v1h-1v1h-1v1h-8v-1h-1v-1h-1v-1h-1v-8h1v-1h1v-1h1zM562 399v1h-1v1h-1v6h1v1h1v1h6v-1h1v-1h1v-6h-1v-1h-1v-1zM581 384h8v1h1v1h1v1h1v8h-1v1h-1v1h-1v1h-8v-1h-1v-1h-1v-1h-1v-8h1v-1h1v-1h1zM582 386v1h-1v1h-1v6h1v1h1v1h6v-1h1v-1h1v-6h-1v-1h-1v-1zM529 408h8v1h1v1h1v1h1v8h-1v1h-1v1h-1v1h-8v-1h-1v-1h-1v-1h-1v-8h1v-1h1v-1h1zM530 410v1h-1v1h-1v6h1v1h1v1h6v-1h1v-1h1v-6h-1v-1h-1v-1zM530 426h8v1h1v1h1v1h1v8h-1v1h-1v1h-1v1h-8v-1h-1v-1h-1v-1h-1v-8h1v-1h1v-1h1zM531 428v1h-1v1h-1v6h1v1h1v1h6v-1h1v-1h1v-6h-1v-1h-1v-1zM549 412h8v1h1v1h1v1h1v8h-1v1h-1v1h-1v1h-8v-1h-1v-1h-1v-1h-1v-8h1v-1h1v-1h1zM550 414v1h-1v1h-1v6h1v1h1v1h6v-1h1v-1h1v-6h-1v-1h-1v-1zM539 421h8v1h1v1h1v1h1v8h-1v1h-1v1h-1v1h-8v-1h-1v-1h-1v-1h-1v-8h1v-1h1v-1h1zM540 423v1h-1v1h-1v6h1v1h1v1h6v-1h1v-1h1v-6h-1v-1h-1v-1zM551 432h8v1h1v1h1v1h1v8h-1v1h-1v1h-1v1h-8v-1h-1v-1h-1v-1h-1v-8h1v-1h1v-1h1zM552 434v1h-1v1h-1v6h1v1h1v1h6v-1h1v-1h1v-6h-1v-1h-1v-1zM542 408h8v1h1v1h1v1h1v8h-1v1h-1v1h-1v1h-8v-1h-1v-1h-1v-1h-1v-8h1v-1h1v-1h1zM543 410v1h-1v1h-1v6h1v1h1v1h6v-1h1v-1h1v-6h-1v-1h-1v-1zM535 416h8v1h1v1h1v1h1v8h-1v1h-1v1h-1v1h-8v-1h-1v-1h-1v-1h-1v-8h1v-1h1v-1h1zM536 418v1h-1v1h-1v6h1v1h1v1h6v-1h1v-1h1v-6h-1v-1h-1v-1zM557 391h8v1h1v1h1v1h1v8h-1v1h-1v1h-1v1h-8v-1h-1v-1h-1v-1h-1v-8h1v-1h1v-1h1zM558 393v1h-1v1h-1v6h1v1h1v1h6v-1h1v-1h1v-6h-1v-1h-1v-1zM550 396h8v1h1v1h1v1h1v8h-1v1h-1v1h-1v1h-8v-1h-1v-1h-1v-1h-1v-8h1v-1h1v-1h1zM551 398v1h-1v1h-1v6h1v1h1v1h6v-1h1v-1h1v-6h-1v-1h-1v-1zM539 397h8v1h1v1h1v1h1v8h-1v1h-1v1h-1v1h-8v-1h-1v-1h-1v-1h-1v-8h1v-1h1v-1h1zM540 399v1h-1v1h-1v6h1v1h1v1h6v-1h1v-1h1v-6h-1v-1h-1v-1zM531 391h8v1h1v1h1v1h1v8h-1v1h-1v1h-1v1h-8v-1h-1v-1h-1v-1h-1v-8h1v-1h1v-1h1zM532 393v1h-1v1h-1v6h1v1h1v1h6v-1h1v-1h1v-6h-1v-1h-1v-1zM534 433h8v1h1v1h1v1h1v8h-1v1h-1v1h-1v1h-8v-1h-1v-1h-1v-1h-1v-8h1v-1h1v-1h1zM535 435v1h-1v1h-1v6h1v1h1v1h6v-1h1v-1h1v-6h-1v-1h-1v-1zM545 421h8v1h1v1h1v1h1v8h-1v1h-1v1h-1v1h-8v-1h-1v-1h-1v-1h-1v-8h1v-1h1v-1h1zM546 423v1h-1v1h-1v6h1v1h1v1h6v-1h1v-1h1v-6h-1v-1h-1v-1zM555 413h8v1h1v1h1v1h1v8h-1v1h-1v1h-1v1h-8v-1h-1v-1h-1v-1h-1v-8h1v-1h1v-1h1zM556 415v1h-1v1h-1v6h1v1h1v1h6v-1h1v-1h1v-6h-1v-1h-1v-1zM531 294h8v1h1v1h1v1h1v8h-1v1h-1v1h-1v1h-8v-1h-1v-1h-1v-1h-1v-8h1v-1h1v-1h1zM532 296v1h-1v1h-1v6h1v1h1v1h6v-1h1v-1h1v-6h-1v-1h-1v-1zM544 307h8v1h1v1h1v1h1v8h-1v1h-1v1h-1v1h-8v-1h-1v-1h-1v-1h-1v-8h1v-1h1v-1h1zM545 309v1h-1v1h-1v6h1v1h1v1h6v-1h1v-1h1v-6h-1v-1h-1v-1zM561 308h8v1h1v1h1v1h1v8h-1v1h-1v1h-1v1h-8v-1h-1v-1h-1v-1h-1v-8h1v-1h1v-1h1zM562 310v1h-1v1h-1v6h1v1h1v1h6v-1h1v-1h1v-6h-1v-1h-1v-1zM577 282h8v1h1v1h1v1h1v8h-1v1h-1v1h-1v1h-8v-1h-1v-1h-1v-1h-1v-8h1v-1h1v-1h1zM578 284v1h-1v1h-1v6h1v1h1v1h6v-1h1v-1h1v-6h-1v-1h-1v-1zM592 281h8v1h1v1h1v1h1v8h-1v1h-1v1h-1v1h-8v-1h-1v-1h-1v-1h-1v-8h1v-1h1v-1h1zM593 283v1h-1v1h-1v6h1v1h1v1h6v-1h1v-1h1v-6h-1v-1h-1v-1zM606 264h8v1h1v1h1v1h1v8h-1v1h-1v1h-1v1h-8v-1h-1v-1h-1v-1h-1v-8h1v-1h1v-1h1zM607 266v1h-1v1h-1v6h1v1h1v1h6v-1h1v-1h1v-6h-1v-1h-1v-1zM574 301h8v1h1v1h1v1h1v8h-1v1h-1v1h-1v1h-8v-1h-1v-1h-1v-1h-1v-8h1v-1h1v-1h1zM575 303v1h-1v1h-1v6h1v1h1v1h6v-1h1v-1h1v-6h-1v-1h-1v-1zM577 297h8v1h1v1h1v1h1v8h-1v1h-1v1h-1v1h-8v-1h-1v-1h-1v-1h-1v-8h1v-1h1v-1h1zM578 299v1h-1v1h-1v6h1v1h1v1h6v-1h1v-1h1v-6h-1v-1h-1v-1zM549 324h8v1h1v1h1v1h1v8h-1v1h-1v1h-1v1h-8v-1h-1v-1h-1v-1h-1v-8h1v-1h1v-1h1zM550 326v1h-1v1h-1v6h1v1h1v1h6v-1h1v-1h1v-6h-1v-1h-1v-1zM537 333h8v1h1v1h1v1h1v8h-1v1h-1v1h-1v1h-8v-1h-1v-1h-1v-1h-1v-8h1v-1h1v-1h1zM538 335v1h-1v1h-1v6h1v1h1v1h6v-1h1v-1h1v-6h-1v-1h-1v-1zM536 338h8v1h1v1h1v1h1v8h-1v1h-1v1h-1v1h-8v-1h-1v-1h-1v-1h-1v-8h1v-1h1v-1h1zM537 340v1h-1v1h-1v6h1v1h1v1h6v-1h1v-1h1v-6h-1v-1h-1v-1zM537 347h8v1h1v1h1v1h1v8h-1v1h-1v1h-1v1h-8v-1h-1v-1h-1v-1h-1v-8h1v-1h1v-1h1zM538 349v1h-1v1h-1v6h1v1h1v1h6v-1h1v-1h1v-6h-1v-1h-1v-1zM534 354h8v1h1v1h1v1h1v8h-1v1h-1v1h-1v1h-8v-1h-1v-1h-1v-1h-1v-8h1v-1h1v-1h1zM535 356v1h-1v1h-1v6h1v1h1v1h6v-1h1v-1h1v-6h-1v-1h-1v-1zM540 369h8v1h1v1h1v1h1v8h-1v1h-1v1h-1v1h-8v-1h-1v-1h-1v-1h-1v-8h1v-1h1v-1h1zM541 371v1h-1v1h-1v6h1v1h1v1h6v-1h1v-1h1v-6h-1v-1h-1v-1zM531 383h8v1h1v1h1v1h1v8h-1v1h-1v1h-1v1h-8v-1h-1v-1h-1v-1h-1v-8h1v-1h1v-1h1zM532 385v1h-1v1h-1v6h1v1h1v1h6v-1h1v-1h1v-6h-1v-1h-1v-1zM557 323h8v1h1v1h1v1h1v8h-1v1h-1v1h-1v1h-8v-1h-1v-1h-1v-1h-1v-8h1v-1h1v-1h1zM558 325v1h-1v1h-1v6h1v1h1v1h6v-1h1v-1h1v-6h-1v-1h-1v-1zM556 336h8v1h1v1h1v1h1v8h-1v1h-1v1h-1v1h-8v-1h-1v-1h-1v-1h-1v-8h1v-1h1v-1h1zM557 338v1h-1v1h-1v6h1v1h1v1h6v-1h1v-1h1v-6h-1v-1h-1v-1zM551 351h8v1h1v1h1v1h1v8h-1v1h-1v1h-1v1h-8v-1h-1v-1h-1v-1h-1v-8h1v-1h1v-1h1zM552 353v1h-1v1h-1v6h1v1h1v1h6v-1h1v-1h1v-6h-1v-1h-1v-1zM554 358h8v1h1v1h1v1h1v8h-1v1h-1v1h-1v1h-8v-1h-1v-1h-1v-1h-1v-8h1v-1h1v-1h1zM555 360v1h-1v1h-1v6h1v1h1v1h6v-1h1v-1h1v-6h-1v-1h-1v-1zM564 317h8v1h1v1h1v1h1v8h-1v1h-1v1h-1v1h-8v-1h-1v-1h-1v-1h-1v-8h1v-1h1v-1h1zM565 319v1h-1v1h-1v6h1v1h1v1h6v-1h1v-1h1v-6h-1v-1h-1v-1zM570 313h8v1h1v1h1v1h1v8h-1v1h-1v1h-1v1h-8v-1h-1v-1h-1v-1h-1v-8h1v-1h1v-1h1zM571 315v1h-1v1h-1v6h1v1h1v1h6v-1h1v-1h1v-6h-1v-1h-1v-1zM581 311h8v1h1v1h1v1h1v8h-1v1h-1v1h-1v1h-8v-1h-1v-1h-1v-1h-1v-8h1v-1h1v-1h1zM582 313v1h-1v1h-1v6h1v1h1v1h6v-1h1v-1h1v-6h-1v-1h-1v-1zM589 306h8v1h1v1h1v1h1v8h-1v1h-1v1h-1v1h-8v-1h-1v-1h-1v-1h-1v-8h1v-1h1v-1h1zM590 308v1h-1v1h-1v6h1v1h1v1h6v-1h1v-1h1v-6h-1v-1h-1v-1zM595 302h8v1h1v1h1v1h1v8h-1v1h-1v1h-1v1h-8v-1h-1v-1h-1v-1h-1v-8h1v-1h1v-1h1zM596 304v1h-1v1h-1v6h1v1h1v1h6v-1h1v-1h1v-6h-1v-1h-1v-1zM604 288h8v1h1v1h1v1h1v8h-1v1h-1v1h-1v1h-8v-1h-1v-1h-1v-1h-1v-8h1v-1h1v-1h1zM605 290v1h-1v1h-1v6h1v1h1v1h6v-1h1v-1h1v-6h-1v-1h-1v-1zM604 277h8v1h1v1h1v1h1v8h-1v1h-1v1h-1v1h-8v-1h-1v-1h-1v-1h-1v-8h1v-1h1v-1h1zM605 279v1h-1v1h-1v6h1v1h1v1h6v-1h1v-1h1v-6h-1v-1h-1v-1zM614 274h8v1h1v1h1v1h1v8h-1v1h-1v1h-1v1h-8v-1h-1v-1h-1v-1h-1v-8h1v-1h1v-1h1zM615 276v1h-1v1h-1v6h1v1h1v1h6v-1h1v-1h1v-6h-1v-1h-1v-1zM621 271h8v1h1v1h1v1h1v8h-1v1h-1v1h-1v1h-8v-1h-1v-1h-1v-1h-1v-8h1v-1h1v-1h1zM622 273v1h-1v1h-1v6h1v1h1v1h6v-1h1v-1h1v-6h-1v-1h-1v-1zM630 269h8v1h1v1h1v1h1v8h-1v1h-1v1h-1v1h-8v-1h-1v-1h-1v-1h-1v-8h1v-1h1v-1h1zM631 271v1h-1v1h-1v6h1v1h1v1h6v-1h1v-1h1v-6h-1v-1h-1v-1zM641 264h8v1h1v1h1v1h1v8h-1v1h-1v1h-1v1h-8v-1h-1v-1h-1v-1h-1v-8h1v-1h1v-1h1zM642 266v1h-1v1h-1v6h1v1h1v1h6v-1h1v-1h1v-6h-1v-1h-1v-1zM611 287h8v1h1v1h1v1h1v8h-1v1h-1v1h-1v1h-8v-1h-1v-1h-1v-1h-1v-8h1v-1h1v-1h1zM612 289v1h-1v1h-1v6h1v1h1v1h6v-1h1v-1h1v-6h-1v-1h-1v-1zM621 283h8v1h1v1h1v1h1v8h-1v1h-1v1h-1v1h-8v-1h-1v-1h-1v-1h-1v-8h1v-1h1v-1h1zM622 285v1h-1v1h-1v6h1v1h1v1h6v-1h1v-1h1v-6h-1v-1h-1v-1zM609 301h8v1h1v1h1v1h1v8h-1v1h-1v1h-1v1h-8v-1h-1v-1h-1v-1h-1v-8h1v-1h1v-1h1zM610 303v1h-1v1h-1v6h1v1h1v1h6v-1h1v-1h1v-6h-1v-1h-1v-1zM596 313h8v1h1v1h1v1h1v8h-1v1h-1v1h-1v1h-8v-1h-1v-1h-1v-1h-1v-8h1v-1h1v-1h1zM597 315v1h-1v1h-1v6h1v1h1v1h6v-1h1v-1h1v-6h-1v-1h-1v-1zM591 323h8v1h1v1h1v1h1v8h-1v1h-1v1h-1v1h-8v-1h-1v-1h-1v-1h-1v-8h1v-1h1v-1h1zM592 325v1h-1v1h-1v6h1v1h1v1h6v-1h1v-1h1v-6h-1v-1h-1v-1zM584 331h8v1h1v1h1v1h1v8h-1v1h-1v1h-1v1h-8v-1h-1v-1h-1v-1h-1v-8h1v-1h1v-1h1zM585 333v1h-1v1h-1v6h1v1h1v1h6v-1h1v-1h1v-6h-1v-1h-1v-1zM576 336h8v1h1v1h1v1h1v8h-1v1h-1v1h-1v1h-8v-1h-1v-1h-1v-1h-1v-8h1v-1h1v-1h1zM577 338v1h-1v1h-1v6h1v1h1v1h6v-1h1v-1h1v-6h-1v-1h-1v-1zM569 331h8v1h1v1h1v1h1v8h-1v1h-1v1h-1v1h-8v-1h-1v-1h-1v-1h-1v-8h1v-1h1v-1h1zM570 333v1h-1v1h-1v6h1v1h1v1h6v-1h1v-1h1v-6h-1v-1h-1v-1zM564 341h8v1h1v1h1v1h1v8h-1v1h-1v1h-1v1h-8v-1h-1v-1h-1v-1h-1v-8h1v-1h1v-1h1zM565 343v1h-1v1h-1v6h1v1h1v1h6v-1h1v-1h1v-6h-1v-1h-1v-1zM571 351h8v1h1v1h1v1h1v8h-1v1h-1v1h-1v1h-8v-1h-1v-1h-1v-1h-1v-8h1v-1h1v-1h1zM572 353v1h-1v1h-1v6h1v1h1v1h6v-1h1v-1h1v-6h-1v-1h-1v-1zM561 361h8v1h1v1h1v1h1v8h-1v1h-1v1h-1v1h-8v-1h-1v-1h-1v-1h-1v-8h1v-1h1v-1h1zM562 363v1h-1v1h-1v6h1v1h1v1h6v-1h1v-1h1v-6h-1v-1h-1v-1zM576 368h8v1h1v1h1v1h1v8h-1v1h-1v1h-1v1h-8v-1h-1v-1h-1v-1h-1v-8h1v-1h1v-1h1zM577 370v1h-1v1h-1v6h1v1h1v1h6v-1h1v-1h1v-6h-1v-1h-1v-1zM589 371h8v1h1v1h1v1h1v8h-1v1h-1v1h-1v1h-8v-1h-1v-1h-1v-1h-1v-8h1v-1h1v-1h1zM590 373v1h-1v1h-1v6h1v1h1v1h6v-1h1v-1h1v-6h-1v-1h-1v-1zM596 366h8v1h1v1h1v1h1v8h-1v1h-1v1h-1v1h-8v-1h-1v-1h-1v-1h-1v-8h1v-1h1v-1h1zM597 368v1h-1v1h-1v6h1v1h1v1h6v-1h1v-1h1v-6h-1v-1h-1v-1zM584 381h8v1h1v1h1v1h1v8h-1v1h-1v1h-1v1h-8v-1h-1v-1h-1v-1h-1v-8h1v-1h1v-1h1zM585 383v1h-1v1h-1v6h1v1h1v1h6v-1h1v-1h1v-6h-1v-1h-1v-1zM566 373h8v1h1v1h1v1h1v8h-1v1h-1v1h-1v1h-8v-1h-1v-1h-1v-1h-1v-8h1v-1h1v-1h1zM567 375v1h-1v1h-1v6h1v1h1v1h6v-1h1v-1h1v-6h-1v-1h-1v-1zM549 363h8v1h1v1h1v1h1v8h-1v1h-1v1h-1v1h-8v-1h-1v-1h-1v-1h-1v-8h1v-1h1v-1h1zM550 365v1h-1v1h-1v6h1v1h1v1h6v-1h1v-1h1v-6h-1v-1h-1v-1zM596 351h8v1h1v1h1v1h1v8h-1v1h-1v1h-1v1h-8v-1h-1v-1h-1v-1h-1v-8h1v-1h1v-1h1zM597 353v1h-1v1h-1v6h1v1h1v1h6v-1h1v-1h1v-6h-1v-1h-1v-1zM606 351h8v1h1v1h1v1h1v8h-1v1h-1v1h-1v1h-8v-1h-1v-1h-1v-1h-1v-8h1v-1h1v-1h1zM607 353v1h-1v1h-1v6h1v1h1v1h6v-1h1v-1h1v-6h-1v-1h-1v-1zM604 346h8v1h1v1h1v1h1v8h-1v1h-1v1h-1v1h-8v-1h-1v-1h-1v-1h-1v-8h1v-1h1v-1h1zM605 348v1h-1v1h-1v6h1v1h1v1h6v-1h1v-1h1v-6h-1v-1h-1v-1zM622 346h8v1h1v1h1v1h1v8h-1v1h-1v1h-1v1h-8v-1h-1v-1h-1v-1h-1v-8h1v-1h1v-1h1zM623 348v1h-1v1h-1v6h1v1h1v1h6v-1h1v-1h1v-6h-1v-1h-1v-1zM624 357h8v1h1v1h1v1h1v8h-1v1h-1v1h-1v1h-8v-1h-1v-1h-1v-1h-1v-8h1v-1h1v-1h1zM625 359v1h-1v1h-1v6h1v1h1v1h6v-1h1v-1h1v-6h-1v-1h-1v-1zM619 366h8v1h1v1h1v1h1v8h-1v1h-1v1h-1v1h-8v-1h-1v-1h-1v-1h-1v-8h1v-1h1v-1h1zM620 368v1h-1v1h-1v6h1v1h1v1h6v-1h1v-1h1v-6h-1v-1h-1v-1zM631 373h8v1h1v1h1v1h1v8h-1v1h-1v1h-1v1h-8v-1h-1v-1h-1v-1h-1v-8h1v-1h1v-1h1zM632 375v1h-1v1h-1v6h1v1h1v1h6v-1h1v-1h1v-6h-1v-1h-1v-1zM636 351h8v1h1v1h1v1h1v8h-1v1h-1v1h-1v1h-8v-1h-1v-1h-1v-1h-1v-8h1v-1h1v-1h1zM637 353v1h-1v1h-1v6h1v1h1v1h6v-1h1v-1h1v-6h-1v-1h-1v-1zM645 359h8v1h1v1h1v1h1v8h-1v1h-1v1h-1v1h-8v-1h-1v-1h-1v-1h-1v-8h1v-1h1v-1h1zM646 361v1h-1v1h-1v6h1v1h1v1h6v-1h1v-1h1v-6h-1v-1h-1v-1zM631 331h8v1h1v1h1v1h1v8h-1v1h-1v1h-1v1h-8v-1h-1v-1h-1v-1h-1v-8h1v-1h1v-1h1zM632 333v1h-1v1h-1v6h1v1h1v1h6v-1h1v-1h1v-6h-1v-1h-1v-1zM634 321h8v1h1v1h1v1h1v8h-1v1h-1v1h-1v1h-8v-1h-1v-1h-1v-1h-1v-8h1v-1h1v-1h1zM635 323v1h-1v1h-1v6h1v1h1v1h6v-1h1v-1h1v-6h-1v-1h-1v-1zM624 326h8v1h1v1h1v1h1v8h-1v1h-1v1h-1v1h-8v-1h-1v-1h-1v-1h-1v-8h1v-1h1v-1h1zM625 328v1h-1v1h-1v6h1v1h1v1h6v-1h1v-1h1v-6h-1v-1h-1v-1zM616 338h8v1h1v1h1v1h1v8h-1v1h-1v1h-1v1h-8v-1h-1v-1h-1v-1h-1v-8h1v-1h1v-1h1zM617 340v1h-1v1h-1v6h1v1h1v1h6v-1h1v-1h1v-6h-1v-1h-1v-1zM601 333h8v1h1v1h1v1h1v8h-1v1h-1v1h-1v1h-8v-1h-1v-1h-1v-1h-1v-8h1v-1h1v-1h1zM602 335v1h-1v1h-1v6h1v1h1v1h6v-1h1v-1h1v-6h-1v-1h-1v-1zM631 308h8v1h1v1h1v1h1v8h-1v1h-1v1h-1v1h-8v-1h-1v-1h-1v-1h-1v-8h1v-1h1v-1h1zM632 310v1h-1v1h-1v6h1v1h1v1h6v-1h1v-1h1v-6h-1v-1h-1v-1zM641 303h8v1h1v1h1v1h1v8h-1v1h-1v1h-1v1h-8v-1h-1v-1h-1v-1h-1v-8h1v-1h1v-1h1zM642 305v1h-1v1h-1v6h1v1h1v1h6v-1h1v-1h1v-6h-1v-1h-1v-1zM626 296h8v1h1v1h1v1h1v8h-1v1h-1v1h-1v1h-8v-1h-1v-1h-1v-1h-1v-8h1v-1h1v-1h1zM627 298v1h-1v1h-1v6h1v1h1v1h6v-1h1v-1h1v-6h-1v-1h-1v-1zM636 291h8v1h1v1h1v1h1v8h-1v1h-1v1h-1v1h-8v-1h-1v-1h-1v-1h-1v-8h1v-1h1v-1h1zM637 293v1h-1v1h-1v6h1v1h1v1h6v-1h1v-1h1v-6h-1v-1h-1v-1zM644 278h8v1h1v1h1v1h1v8h-1v1h-1v1h-1v1h-8v-1h-1v-1h-1v-1h-1v-8h1v-1h1v-1h1zM645 280v1h-1v1h-1v6h1v1h1v1h6v-1h1v-1h1v-6h-1v-1h-1v-1zM626 268h8v1h1v1h1v1h1v8h-1v1h-1v1h-1v1h-8v-1h-1v-1h-1v-1h-1v-8h1v-1h1v-1h1zM627 270v1h-1v1h-1v6h1v1h1v1h6v-1h1v-1h1v-6h-1v-1h-1v-1zM591 296h8v1h1v1h1v1h1v8h-1v1h-1v1h-1v1h-8v-1h-1v-1h-1v-1h-1v-8h1v-1h1v-1h1zM592 298v1h-1v1h-1v6h1v1h1v1h6v-1h1v-1h1v-6h-1v-1h-1v-1zM616 306h8v1h1v1h1v1h1v8h-1v1h-1v1h-1v1h-8v-1h-1v-1h-1v-1h-1v-8h1v-1h1v-1h1zM617 308v1h-1v1h-1v6h1v1h1v1h6v-1h1v-1h1v-6h-1v-1h-1v-1zM601 318h8v1h1v1h1v1h1v8h-1v1h-1v1h-1v1h-8v-1h-1v-1h-1v-1h-1v-8h1v-1h1v-1h1zM602 320v1h-1v1h-1v6h1v1h1v1h6v-1h1v-1h1v-6h-1v-1h-1v-1zM609 326h8v1h1v1h1v1h1v8h-1v1h-1v1h-1v1h-8v-1h-1v-1h-1v-1h-1v-8h1v-1h1v-1h1zM610 328v1h-1v1h-1v6h1v1h1v1h6v-1h1v-1h1v-6h-1v-1h-1v-1zM654 267h8v1h1v1h1v1h1v8h-1v1h-1v1h-1v1h-8v-1h-1v-1h-1v-1h-1v-8h1v-1h1v-1h1zM655 269v1h-1v1h-1v6h1v1h1v1h6v-1h1v-1h1v-6h-1v-1h-1v-1zM662 264h8v1h1v1h1v1h1v8h-1v1h-1v1h-1v1h-8v-1h-1v-1h-1v-1h-1v-8h1v-1h1v-1h1zM663 266v1h-1v1h-1v6h1v1h1v1h6v-1h1v-1h1v-6h-1v-1h-1v-1zM676 268h8v1h1v1h1v1h1v8h-1v1h-1v1h-1v1h-8v-1h-1v-1h-1v-1h-1v-8h1v-1h1v-1h1zM677 270v1h-1v1h-1v6h1v1h1v1h6v-1h1v-1h1v-6h-1v-1h-1v-1zM686 267h8v1h1v1h1v1h1v8h-1v1h-1v1h-1v1h-8v-1h-1v-1h-1v-1h-1v-8h1v-1h1v-1h1zM687 269v1h-1v1h-1v6h1v1h1v1h6v-1h1v-1h1v-6h-1v-1h-1v-1zM709 267h8v1h1v1h1v1h1v8h-1v1h-1v1h-1v1h-8v-1h-1v-1h-1v-1h-1v-8h1v-1h1v-1h1zM710 269v1h-1v1h-1v6h1v1h1v1h6v-1h1v-1h1v-6h-1v-1h-1v-1zM695 277h8v1h1v1h1v1h1v8h-1v1h-1v1h-1v1h-8v-1h-1v-1h-1v-1h-1v-8h1v-1h1v-1h1zM696 279v1h-1v1h-1v6h1v1h1v1h6v-1h1v-1h1v-6h-1v-1h-1v-1zM681 281h8v1h1v1h1v1h1v8h-1v1h-1v1h-1v1h-8v-1h-1v-1h-1v-1h-1v-8h1v-1h1v-1h1zM682 283v1h-1v1h-1v6h1v1h1v1h6v-1h1v-1h1v-6h-1v-1h-1v-1zM666 278h8v1h1v1h1v1h1v8h-1v1h-1v1h-1v1h-8v-1h-1v-1h-1v-1h-1v-8h1v-1h1v-1h1zM667 280v1h-1v1h-1v6h1v1h1v1h6v-1h1v-1h1v-6h-1v-1h-1v-1zM656 286h8v1h1v1h1v1h1v8h-1v1h-1v1h-1v1h-8v-1h-1v-1h-1v-1h-1v-8h1v-1h1v-1h1zM657 288v1h-1v1h-1v6h1v1h1v1h6v-1h1v-1h1v-6h-1v-1h-1v-1zM649 298h8v1h1v1h1v1h1v8h-1v1h-1v1h-1v1h-8v-1h-1v-1h-1v-1h-1v-8h1v-1h1v-1h1zM650 300v1h-1v1h-1v6h1v1h1v1h6v-1h1v-1h1v-6h-1v-1h-1v-1zM661 293h8v1h1v1h1v1h1v8h-1v1h-1v1h-1v1h-8v-1h-1v-1h-1v-1h-1v-8h1v-1h1v-1h1zM662 295v1h-1v1h-1v6h1v1h1v1h6v-1h1v-1h1v-6h-1v-1h-1v-1zM671 291h8v1h1v1h1v1h1v8h-1v1h-1v1h-1v1h-8v-1h-1v-1h-1v-1h-1v-8h1v-1h1v-1h1zM672 293v1h-1v1h-1v6h1v1h1v1h6v-1h1v-1h1v-6h-1v-1h-1v-1zM684 288h8v1h1v1h1v1h1v8h-1v1h-1v1h-1v1h-8v-1h-1v-1h-1v-1h-1v-8h1v-1h1v-1h1zM685 290v1h-1v1h-1v6h1v1h1v1h6v-1h1v-1h1v-6h-1v-1h-1v-1zM679 298h8v1h1v1h1v1h1v8h-1v1h-1v1h-1v1h-8v-1h-1v-1h-1v-1h-1v-8h1v-1h1v-1h1zM680 300v1h-1v1h-1v6h1v1h1v1h6v-1h1v-1h1v-6h-1v-1h-1v-1zM666 303h8v1h1v1h1v1h1v8h-1v1h-1v1h-1v1h-8v-1h-1v-1h-1v-1h-1v-8h1v-1h1v-1h1zM667 305v1h-1v1h-1v6h1v1h1v1h6v-1h1v-1h1v-6h-1v-1h-1v-1zM656 308h8v1h1v1h1v1h1v8h-1v1h-1v1h-1v1h-8v-1h-1v-1h-1v-1h-1v-8h1v-1h1v-1h1zM657 310v1h-1v1h-1v6h1v1h1v1h6v-1h1v-1h1v-6h-1v-1h-1v-1zM671 311h8v1h1v1h1v1h1v8h-1v1h-1v1h-1v1h-8v-1h-1v-1h-1v-1h-1v-8h1v-1h1v-1h1zM672 313v1h-1v1h-1v6h1v1h1v1h6v-1h1v-1h1v-6h-1v-1h-1v-1zM670 319h8v1h1v1h1v1h1v8h-1v1h-1v1h-1v1h-8v-1h-1v-1h-1v-1h-1v-8h1v-1h1v-1h1zM671 321v1h-1v1h-1v6h1v1h1v1h6v-1h1v-1h1v-6h-1v-1h-1v-1zM656 326h8v1h1v1h1v1h1v8h-1v1h-1v1h-1v1h-8v-1h-1v-1h-1v-1h-1v-8h1v-1h1v-1h1zM657 328v1h-1v1h-1v6h1v1h1v1h6v-1h1v-1h1v-6h-1v-1h-1v-1zM650 336h8v1h1v1h1v1h1v8h-1v1h-1v1h-1v1h-8v-1h-1v-1h-1v-1h-1v-8h1v-1h1v-1h1zM651 338v1h-1v1h-1v6h1v1h1v1h6v-1h1v-1h1v-6h-1v-1h-1v-1zM652 343h8v1h1v1h1v1h1v8h-1v1h-1v1h-1v1h-8v-1h-1v-1h-1v-1h-1v-8h1v-1h1v-1h1zM653 345v1h-1v1h-1v6h1v1h1v1h6v-1h1v-1h1v-6h-1v-1h-1v-1zM662 348h8v1h1v1h1v1h1v8h-1v1h-1v1h-1v1h-8v-1h-1v-1h-1v-1h-1v-8h1v-1h1v-1h1zM663 350v1h-1v1h-1v6h1v1h1v1h6v-1h1v-1h1v-6h-1v-1h-1v-1zM665 359h8v1h1v1h1v1h1v8h-1v1h-1v1h-1v1h-8v-1h-1v-1h-1v-1h-1v-8h1v-1h1v-1h1zM666 361v1h-1v1h-1v6h1v1h1v1h6v-1h1v-1h1v-6h-1v-1h-1v-1zM696 302h8v1h1v1h1v1h1v8h-1v1h-1v1h-1v1h-8v-1h-1v-1h-1v-1h-1v-8h1v-1h1v-1h1zM697 304v1h-1v1h-1v6h1v1h1v1h6v-1h1v-1h1v-6h-1v-1h-1v-1zM702 306h8v1h1v1h1v1h1v8h-1v1h-1v1h-1v1h-8v-1h-1v-1h-1v-1h-1v-8h1v-1h1v-1h1zM703 308v1h-1v1h-1v6h1v1h1v1h6v-1h1v-1h1v-6h-1v-1h-1v-1zM706 326h8v1h1v1h1v1h1v8h-1v1h-1v1h-1v1h-8v-1h-1v-1h-1v-1h-1v-8h1v-1h1v-1h1zM707 328v1h-1v1h-1v6h1v1h1v1h6v-1h1v-1h1v-6h-1v-1h-1v-1zM709 331h8v1h1v1h1v1h1v8h-1v1h-1v1h-1v1h-8v-1h-1v-1h-1v-1h-1v-8h1v-1h1v-1h1zM710 333v1h-1v1h-1v6h1v1h1v1h6v-1h1v-1h1v-6h-1v-1h-1v-1zM693 338h8v1h1v1h1v1h1v8h-1v1h-1v1h-1v1h-8v-1h-1v-1h-1v-1h-1v-8h1v-1h1v-1h1zM694 340v1h-1v1h-1v6h1v1h1v1h6v-1h1v-1h1v-6h-1v-1h-1v-1zM731 309h8v1h1v1h1v1h1v8h-1v1h-1v1h-1v1h-8v-1h-1v-1h-1v-1h-1v-8h1v-1h1v-1h1zM732 311v1h-1v1h-1v6h1v1h1v1h6v-1h1v-1h1v-6h-1v-1h-1v-1zM735 277h8v1h1v1h1v1h1v8h-1v1h-1v1h-1v1h-8v-1h-1v-1h-1v-1h-1v-8h1v-1h1v-1h1zM736 279v1h-1v1h-1v6h1v1h1v1h6v-1h1v-1h1v-6h-1v-1h-1v-1zM739 281h8v1h1v1h1v1h1v8h-1v1h-1v1h-1v1h-8v-1h-1v-1h-1v-1h-1v-8h1v-1h1v-1h1zM740 283v1h-1v1h-1v6h1v1h1v1h6v-1h1v-1h1v-6h-1v-1h-1v-1zM504 522h8v1h1v1h1v1h1v8h-1v1h-1v1h-1v1h-8v-1h-1v-1h-1v-1h-1v-8h1v-1h1v-1h1zM505 524v1h-1v1h-1v6h1v1h1v1h6v-1h1v-1h1v-6h-1v-1h-1v-1zM457 537h8v1h1v1h1v1h1v8h-1v1h-1v1h-1v1h-8v-1h-1v-1h-1v-1h-1v-8h1v-1h1v-1h1zM458 539v1h-1v1h-1v6h1v1h1v1h6v-1h1v-1h1v-6h-1v-1h-1v-1zM435 546h8v1h1v1h1v1h1v8h-1v1h-1v1h-1v1h-8v-1h-1v-1h-1v-1h-1v-8h1v-1h1v-1h1zM436 548v1h-1v1h-1v6h1v1h1v1h6v-1h1v-1h1v-6h-1v-1h-1v-1zM431 571h8v1h1v1h1v1h1v8h-1v1h-1v1h-1v1h-8v-1h-1v-1h-1v-1h-1v-8h1v-1h1v-1h1zM432 573v1h-1v1h-1v6h1v1h1v1h6v-1h1v-1h1v-6h-1v-1h-1v-1zM432 533h8v1h1v1h1v1h1v8h-1v1h-1v1h-1v1h-8v-1h-1v-1h-1v-1h-1v-8h1v-1h1v-1h1zM433 535v1h-1v1h-1v6h1v1h1v1h6v-1h1v-1h1v-6h-1v-1h-1v-1zM413 533h8v1h1v1h1v1h1v8h-1v1h-1v1h-1v1h-8v-1h-1v-1h-1v-1h-1v-8h1v-1h1v-1h1zM414 535v1h-1v1h-1v6h1v1h1v1h6v-1h1v-1h1v-6h-1v-1h-1v-1zM424 518h8v1h1v1h1v1h1v8h-1v1h-1v1h-1v1h-8v-1h-1v-1h-1v-1h-1v-8h1v-1h1v-1h1zM425 520v1h-1v1h-1v6h1v1h1v1h6v-1h1v-1h1v-6h-1v-1h-1v-1zM443 519h8v1h1v1h1v1h1v8h-1v1h-1v1h-1v1h-8v-1h-1v-1h-1v-1h-1v-8h1v-1h1v-1h1zM444 521v1h-1v1h-1v6h1v1h1v1h6v-1h1v-1h1v-6h-1v-1h-1v-1zM444 525h8v1h1v1h1v1h1v8h-1v1h-1v1h-1v1h-8v-1h-1v-1h-1v-1h-1v-8h1v-1h1v-1h1zM445 527v1h-1v1h-1v6h1v1h1v1h6v-1h1v-1h1v-6h-1v-1h-1v-1zM410 517h8v1h1v1h1v1h1v8h-1v1h-1v1h-1v1h-8v-1h-1v-1h-1v-1h-1v-8h1v-1h1v-1h1zM411 519v1h-1v1h-1v6h1v1h1v1h6v-1h1v-1h1v-6h-1v-1h-1v-1zM435 508h8v1h1v1h1v1h1v8h-1v1h-1v1h-1v1h-8v-1h-1v-1h-1v-1h-1v-8h1v-1h1v-1h1zM436 510v1h-1v1h-1v6h1v1h1v1h6v-1h1v-1h1v-6h-1v-1h-1v-1zM445 504h8v1h1v1h1v1h1v8h-1v1h-1v1h-1v1h-8v-1h-1v-1h-1v-1h-1v-8h1v-1h1v-1h1zM446 506v1h-1v1h-1v6h1v1h1v1h6v-1h1v-1h1v-6h-1v-1h-1v-1zM410 506h8v1h1v1h1v1h1v8h-1v1h-1v1h-1v1h-8v-1h-1v-1h-1v-1h-1v-8h1v-1h1v-1h1zM411 508v1h-1v1h-1v6h1v1h1v1h6v-1h1v-1h1v-6h-1v-1h-1v-1zM726 165h8v1h1v1h1v1h1v8h-1v1h-1v1h-1v1h-8v-1h-1v-1h-1v-1h-1v-8h1v-1h1v-1h1zM727 167v1h-1v1h-1v6h1v1h1v1h6v-1h1v-1h1v-6h-1v-1h-1v-1zM708 179h8v1h1v1h1v1h1v8h-1v1h-1v1h-1v1h-8v-1h-1v-1h-1v-1h-1v-8h1v-1h1v-1h1zM709 181v1h-1v1h-1v6h1v1h1v1h6v-1h1v-1h1v-6h-1v-1h-1v-1zM681 183h8v1h1v1h1v1h1v8h-1v1h-1v1h-1v1h-8v-1h-1v-1h-1v-1h-1v-8h1v-1h1v-1h1zM682 185v1h-1v1h-1v6h1v1h1v1h6v-1h1v-1h1v-6h-1v-1h-1v-1zM680 192h8v1h1v1h1v1h1v8h-1v1h-1v1h-1v1h-8v-1h-1v-1h-1v-1h-1v-8h1v-1h1v-1h1zM681 194v1h-1v1h-1v6h1v1h1v1h6v-1h1v-1h1v-6h-1v-1h-1v-1zM710 194h8v1h1v1h1v1h1v8h-1v1h-1v1h-1v1h-8v-1h-1v-1h-1v-1h-1v-8h1v-1h1v-1h1zM711 196v1h-1v1h-1v6h1v1h1v1h6v-1h1v-1h1v-6h-1v-1h-1v-1zM696 208h8v1h1v1h1v1h1v8h-1v1h-1v1h-1v1h-8v-1h-1v-1h-1v-1h-1v-8h1v-1h1v-1h1zM697 210v1h-1v1h-1v6h1v1h1v1h6v-1h1v-1h1v-6h-1v-1h-1v-1zM790 199h8v1h1v1h1v1h1v8h-1v1h-1v1h-1v1h-8v-1h-1v-1h-1v-1h-1v-8h1v-1h1v-1h1zM791 201v1h-1v1h-1v6h1v1h1v1h6v-1h1v-1h1v-6h-1v-1h-1v-1zM781 207h8v1h1v1h1v1h1v8h-1v1h-1v1h-1v1h-8v-1h-1v-1h-1v-1h-1v-8h1v-1h1v-1h1zM782 209v1h-1v1h-1v6h1v1h1v1h6v-1h1v-1h1v-6h-1v-1h-1v-1zM776 196h8v1h1v1h1v1h1v8h-1v1h-1v1h-1v1h-8v-1h-1v-1h-1v-1h-1v-8h1v-1h1v-1h1zM777 198v1h-1v1h-1v6h1v1h1v1h6v-1h1v-1h1v-6h-1v-1h-1v-1zM792 174h8v1h1v1h1v1h1v8h-1v1h-1v1h-1v1h-8v-1h-1v-1h-1v-1h-1v-8h1v-1h1v-1h1zM793 176v1h-1v1h-1v6h1v1h1v1h6v-1h1v-1h1v-6h-1v-1h-1v-1zM792 162h8v1h1v1h1v1h1v8h-1v1h-1v1h-1v1h-8v-1h-1v-1h-1v-1h-1v-8h1v-1h1v-1h1zM793 164v1h-1v1h-1v6h1v1h1v1h6v-1h1v-1h1v-6h-1v-1h-1v-1zM764 215h8v1h1v1h1v1h1v8h-1v1h-1v1h-1v1h-8v-1h-1v-1h-1v-1h-1v-8h1v-1h1v-1h1zM765 217v1h-1v1h-1v6h1v1h1v1h6v-1h1v-1h1v-6h-1v-1h-1v-1zM752 222h8v1h1v1h1v1h1v8h-1v1h-1v1h-1v1h-8v-1h-1v-1h-1v-1h-1v-8h1v-1h1v-1h1zM753 224v1h-1v1h-1v6h1v1h1v1h6v-1h1v-1h1v-6h-1v-1h-1v-1zM751 215h8v1h1v1h1v1h1v8h-1v1h-1v1h-1v1h-8v-1h-1v-1h-1v-1h-1v-8h1v-1h1v-1h1zM752 217v1h-1v1h-1v6h1v1h1v1h6v-1h1v-1h1v-6h-1v-1h-1v-1zM775 235h8v1h1v1h1v1h1v8h-1v1h-1v1h-1v1h-8v-1h-1v-1h-1v-1h-1v-8h1v-1h1v-1h1zM776 237v1h-1v1h-1v6h1v1h1v1h6v-1h1v-1h1v-6h-1v-1h-1v-1zM784 237h8v1h1v1h1v1h1v8h-1v1h-1v1h-1v1h-8v-1h-1v-1h-1v-1h-1v-8h1v-1h1v-1h1zM785 239v1h-1v1h-1v6h1v1h1v1h6v-1h1v-1h1v-6h-1v-1h-1v-1zM744 247h8v1h1v1h1v1h1v8h-1v1h-1v1h-1v1h-8v-1h-1v-1h-1v-1h-1v-8h1v-1h1v-1h1zM745 249v1h-1v1h-1v6h1v1h1v1h6v-1h1v-1h1v-6h-1v-1h-1v-1zM736 229h8v1h1v1h1v1h1v8h-1v1h-1v1h-1v1h-8v-1h-1v-1h-1v-1h-1v-8h1v-1h1v-1h1zM737 231v1h-1v1h-1v6h1v1h1v1h6v-1h1v-1h1v-6h-1v-1h-1v-1zM737 213h8v1h1v1h1v1h1v8h-1v1h-1v1h-1v1h-8v-1h-1v-1h-1v-1h-1v-8h1v-1h1v-1h1zM738 215v1h-1v1h-1v6h1v1h1v1h6v-1h1v-1h1v-6h-1v-1h-1v-1zM746 205h8v1h1v1h1v1h1v8h-1v1h-1v1h-1v1h-8v-1h-1v-1h-1v-1h-1v-8h1v-1h1v-1h1zM747 207v1h-1v1h-1v6h1v1h1v1h6v-1h1v-1h1v-6h-1v-1h-1v-1zM757 200h8v1h1v1h1v1h1v8h-1v1h-1v1h-1v1h-8v-1h-1v-1h-1v-1h-1v-8h1v-1h1v-1h1zM758 202v1h-1v1h-1v6h1v1h1v1h6v-1h1v-1h1v-6h-1v-1h-1v-1zM766 193h8v1h1v1h1v1h1v8h-1v1h-1v1h-1v1h-8v-1h-1v-1h-1v-1h-1v-8h1v-1h1v-1h1zM767 195v1h-1v1h-1v6h1v1h1v1h6v-1h1v-1h1v-6h-1v-1h-1v-1zM770 178h8v1h1v1h1v1h1v8h-1v1h-1v1h-1v1h-8v-1h-1v-1h-1v-1h-1v-8h1v-1h1v-1h1zM771 180v1h-1v1h-1v6h1v1h1v1h6v-1h1v-1h1v-6h-1v-1h-1v-1zM757 163h8v1h1v1h1v1h1v8h-1v1h-1v1h-1v1h-8v-1h-1v-1h-1v-1h-1v-8h1v-1h1v-1h1zM758 165v1h-1v1h-1v6h1v1h1v1h6v-1h1v-1h1v-6h-1v-1h-1v-1zM772 153h8v1h1v1h1v1h1v8h-1v1h-1v1h-1v1h-8v-1h-1v-1h-1v-1h-1v-8h1v-1h1v-1h1zM773 155v1h-1v1h-1v6h1v1h1v1h6v-1h1v-1h1v-6h-1v-1h-1v-1zM739 147h8v1h1v1h1v1h1v8h-1v1h-1v1h-1v1h-8v-1h-1v-1h-1v-1h-1v-8h1v-1h1v-1h1zM740 149v1h-1v1h-1v6h1v1h1v1h6v-1h1v-1h1v-6h-1v-1h-1v-1zM741 151h8v1h1v1h1v1h1v8h-1v1h-1v1h-1v1h-8v-1h-1v-1h-1v-1h-1v-8h1v-1h1v-1h1zM742 153v1h-1v1h-1v6h1v1h1v1h6v-1h1v-1h1v-6h-1v-1h-1v-1zM750 144h8v1h1v1h1v1h1v8h-1v1h-1v1h-1v1h-8v-1h-1v-1h-1v-1h-1v-8h1v-1h1v-1h1zM751 146v1h-1v1h-1v6h1v1h1v1h6v-1h1v-1h1v-6h-1v-1h-1v-1zM726 182h8v1h1v1h1v1h1v8h-1v1h-1v1h-1v1h-8v-1h-1v-1h-1v-1h-1v-8h1v-1h1v-1h1zM727 184v1h-1v1h-1v6h1v1h1v1h6v-1h1v-1h1v-6h-1v-1h-1v-1zM724 184h8v1h1v1h1v1h1v8h-1v1h-1v1h-1v1h-8v-1h-1v-1h-1v-1h-1v-8h1v-1h1v-1h1zM725 186v1h-1v1h-1v6h1v1h1v1h6v-1h1v-1h1v-6h-1v-1h-1v-1zM740 166h8v1h1v1h1v1h1v8h-1v1h-1v1h-1v1h-8v-1h-1v-1h-1v-1h-1v-8h1v-1h1v-1h1zM741 168v1h-1v1h-1v6h1v1h1v1h6v-1h1v-1h1v-6h-1v-1h-1v-1zM746 169h8v1h1v1h1v1h1v8h-1v1h-1v1h-1v1h-8v-1h-1v-1h-1v-1h-1v-8h1v-1h1v-1h1zM747 171v1h-1v1h-1v6h1v1h1v1h6v-1h1v-1h1v-6h-1v-1h-1v-1zM741 177h8v1h1v1h1v1h1v8h-1v1h-1v1h-1v1h-8v-1h-1v-1h-1v-1h-1v-8h1v-1h1v-1h1zM742 179v1h-1v1h-1v6h1v1h1v1h6v-1h1v-1h1v-6h-1v-1h-1v-1zM751 181h8v1h1v1h1v1h1v8h-1v1h-1v1h-1v1h-8v-1h-1v-1h-1v-1h-1v-8h1v-1h1v-1h1zM752 183v1h-1v1h-1v6h1v1h1v1h6v-1h1v-1h1v-6h-1v-1h-1v-1zM746 191h8v1h1v1h1v1h1v8h-1v1h-1v1h-1v1h-8v-1h-1v-1h-1v-1h-1v-8h1v-1h1v-1h1zM747 193v1h-1v1h-1v6h1v1h1v1h6v-1h1v-1h1v-6h-1v-1h-1v-1zM737 198h8v1h1v1h1v1h1v8h-1v1h-1v1h-1v1h-8v-1h-1v-1h-1v-1h-1v-8h1v-1h1v-1h1zM738 200v1h-1v1h-1v6h1v1h1v1h6v-1h1v-1h1v-6h-1v-1h-1v-1zM730 202h8v1h1v1h1v1h1v8h-1v1h-1v1h-1v1h-8v-1h-1v-1h-1v-1h-1v-8h1v-1h1v-1h1zM731 204v1h-1v1h-1v6h1v1h1v1h6v-1h1v-1h1v-6h-1v-1h-1v-1zM721 208h8v1h1v1h1v1h1v8h-1v1h-1v1h-1v1h-8v-1h-1v-1h-1v-1h-1v-8h1v-1h1v-1h1zM722 210v1h-1v1h-1v6h1v1h1v1h6v-1h1v-1h1v-6h-1v-1h-1v-1zM714 213h8v1h1v1h1v1h1v8h-1v1h-1v1h-1v1h-8v-1h-1v-1h-1v-1h-1v-8h1v-1h1v-1h1zM715 215v1h-1v1h-1v6h1v1h1v1h6v-1h1v-1h1v-6h-1v-1h-1v-1zM707 219h8v1h1v1h1v1h1v8h-1v1h-1v1h-1v1h-8v-1h-1v-1h-1v-1h-1v-8h1v-1h1v-1h1zM708 221v1h-1v1h-1v6h1v1h1v1h6v-1h1v-1h1v-6h-1v-1h-1v-1zM701 226h8v1h1v1h1v1h1v8h-1v1h-1v1h-1v1h-8v-1h-1v-1h-1v-1h-1v-8h1v-1h1v-1h1zM702 228v1h-1v1h-1v6h1v1h1v1h6v-1h1v-1h1v-6h-1v-1h-1v-1zM691 223h8v1h1v1h1v1h1v8h-1v1h-1v1h-1v1h-8v-1h-1v-1h-1v-1h-1v-8h1v-1h1v-1h1zM692 225v1h-1v1h-1v6h1v1h1v1h6v-1h1v-1h1v-6h-1v-1h-1v-1zM686 213h8v1h1v1h1v1h1v8h-1v1h-1v1h-1v1h-8v-1h-1v-1h-1v-1h-1v-8h1v-1h1v-1h1zM687 215v1h-1v1h-1v6h1v1h1v1h6v-1h1v-1h1v-6h-1v-1h-1v-1zM679 223h8v1h1v1h1v1h1v8h-1v1h-1v1h-1v1h-8v-1h-1v-1h-1v-1h-1v-8h1v-1h1v-1h1zM680 225v1h-1v1h-1v6h1v1h1v1h6v-1h1v-1h1v-6h-1v-1h-1v-1zM684 231h8v1h1v1h1v1h1v8h-1v1h-1v1h-1v1h-8v-1h-1v-1h-1v-1h-1v-8h1v-1h1v-1h1zM685 233v1h-1v1h-1v6h1v1h1v1h6v-1h1v-1h1v-6h-1v-1h-1v-1zM689 241h8v1h1v1h1v1h1v8h-1v1h-1v1h-1v1h-8v-1h-1v-1h-1v-1h-1v-8h1v-1h1v-1h1zM690 243v1h-1v1h-1v6h1v1h1v1h6v-1h1v-1h1v-6h-1v-1h-1v-1zM680 251h8v1h1v1h1v1h1v8h-1v1h-1v1h-1v1h-8v-1h-1v-1h-1v-1h-1v-8h1v-1h1v-1h1zM681 253v1h-1v1h-1v6h1v1h1v1h6v-1h1v-1h1v-6h-1v-1h-1v-1zM699 252h8v1h1v1h1v1h1v8h-1v1h-1v1h-1v1h-8v-1h-1v-1h-1v-1h-1v-8h1v-1h1v-1h1zM700 254v1h-1v1h-1v6h1v1h1v1h6v-1h1v-1h1v-6h-1v-1h-1v-1zM707 258h8v1h1v1h1v1h1v8h-1v1h-1v1h-1v1h-8v-1h-1v-1h-1v-1h-1v-8h1v-1h1v-1h1zM708 260v1h-1v1h-1v6h1v1h1v1h6v-1h1v-1h1v-6h-1v-1h-1v-1zM720 253h8v1h1v1h1v1h1v8h-1v1h-1v1h-1v1h-8v-1h-1v-1h-1v-1h-1v-8h1v-1h1v-1h1zM721 255v1h-1v1h-1v6h1v1h1v1h6v-1h1v-1h1v-6h-1v-1h-1v-1zM729 243h8v1h1v1h1v1h1v8h-1v1h-1v1h-1v1h-8v-1h-1v-1h-1v-1h-1v-8h1v-1h1v-1h1zM730 245v1h-1v1h-1v6h1v1h1v1h6v-1h1v-1h1v-6h-1v-1h-1v-1zM724 233h8v1h1v1h1v1h1v8h-1v1h-1v1h-1v1h-8v-1h-1v-1h-1v-1h-1v-8h1v-1h1v-1h1zM725 235v1h-1v1h-1v6h1v1h1v1h6v-1h1v-1h1v-6h-1v-1h-1v-1zM716 224h8v1h1v1h1v1h1v8h-1v1h-1v1h-1v1h-8v-1h-1v-1h-1v-1h-1v-8h1v-1h1v-1h1zM717 226v1h-1v1h-1v6h1v1h1v1h6v-1h1v-1h1v-6h-1v-1h-1v-1zM712 237h8v1h1v1h1v1h1v8h-1v1h-1v1h-1v1h-8v-1h-1v-1h-1v-1h-1v-8h1v-1h1v-1h1zM713 239v1h-1v1h-1v6h1v1h1v1h6v-1h1v-1h1v-6h-1v-1h-1v-1zM704 242h8v1h1v1h1v1h1v8h-1v1h-1v1h-1v1h-8v-1h-1v-1h-1v-1h-1v-8h1v-1h1v-1h1zM705 244v1h-1v1h-1v6h1v1h1v1h6v-1h1v-1h1v-6h-1v-1h-1v-1zM717 199h8v1h1v1h1v1h1v8h-1v1h-1v1h-1v1h-8v-1h-1v-1h-1v-1h-1v-8h1v-1h1v-1h1zM718 201v1h-1v1h-1v6h1v1h1v1h6v-1h1v-1h1v-6h-1v-1h-1v-1zM732 217h8v1h1v1h1v1h1v8h-1v1h-1v1h-1v1h-8v-1h-1v-1h-1v-1h-1v-8h1v-1h1v-1h1zM733 219v1h-1v1h-1v6h1v1h1v1h6v-1h1v-1h1v-6h-1v-1h-1v-1zM727 223h8v1h1v1h1v1h1v8h-1v1h-1v1h-1v1h-8v-1h-1v-1h-1v-1h-1v-8h1v-1h1v-1h1zM728 225v1h-1v1h-1v6h1v1h1v1h6v-1h1v-1h1v-6h-1v-1h-1v-1zM759 177h8v1h1v1h1v1h1v8h-1v1h-1v1h-1v1h-8v-1h-1v-1h-1v-1h-1v-8h1v-1h1v-1h1zM760 179v1h-1v1h-1v6h1v1h1v1h6v-1h1v-1h1v-6h-1v-1h-1v-1zM764 186h8v1h1v1h1v1h1v8h-1v1h-1v1h-1v1h-8v-1h-1v-1h-1v-1h-1v-8h1v-1h1v-1h1zM765 188v1h-1v1h-1v6h1v1h1v1h6v-1h1v-1h1v-6h-1v-1h-1v-1zM756 193h8v1h1v1h1v1h1v8h-1v1h-1v1h-1v1h-8v-1h-1v-1h-1v-1h-1v-8h1v-1h1v-1h1zM757 195v1h-1v1h-1v6h1v1h1v1h6v-1h1v-1h1v-6h-1v-1h-1v-1zM751 199h8v1h1v1h1v1h1v8h-1v1h-1v1h-1v1h-8v-1h-1v-1h-1v-1h-1v-8h1v-1h1v-1h1zM752 201v1h-1v1h-1v6h1v1h1v1h6v-1h1v-1h1v-6h-1v-1h-1v-1zM858 59h8v1h1v1h1v1h1v8h-1v1h-1v1h-1v1h-8v-1h-1v-1h-1v-1h-1v-8h1v-1h1v-1h1zM859 61v1h-1v1h-1v6h1v1h1v1h6v-1h1v-1h1v-6h-1v-1h-1v-1zM867 64h8v1h1v1h1v1h1v8h-1v1h-1v1h-1v1h-8v-1h-1v-1h-1v-1h-1v-8h1v-1h1v-1h1zM868 66v1h-1v1h-1v6h1v1h1v1h6v-1h1v-1h1v-6h-1v-1h-1v-1zM836 70h8v1h1v1h1v1h1v8h-1v1h-1v1h-1v1h-8v-1h-1v-1h-1v-1h-1v-8h1v-1h1v-1h1zM837 72v1h-1v1h-1v6h1v1h1v1h6v-1h1v-1h1v-6h-1v-1h-1v-1zM840 66h8v1h1v1h1v1h1v8h-1v1h-1v1h-1v1h-8v-1h-1v-1h-1v-1h-1v-8h1v-1h1v-1h1zM841 68v1h-1v1h-1v6h1v1h1v1h6v-1h1v-1h1v-6h-1v-1h-1v-1zM889 106h8v1h1v1h1v1h1v8h-1v1h-1v1h-1v1h-8v-1h-1v-1h-1v-1h-1v-8h1v-1h1v-1h1zM890 108v1h-1v1h-1v6h1v1h1v1h6v-1h1v-1h1v-6h-1v-1h-1v-1zM785 107h8v1h1v1h1v1h1v8h-1v1h-1v1h-1v1h-8v-1h-1v-1h-1v-1h-1v-8h1v-1h1v-1h1zM786 109v1h-1v1h-1v6h1v1h1v1h6v-1h1v-1h1v-6h-1v-1h-1v-1zM791 123h8v1h1v1h1v1h1v8h-1v1h-1v1h-1v1h-8v-1h-1v-1h-1v-1h-1v-8h1v-1h1v-1h1zM792 125v1h-1v1h-1v6h1v1h1v1h6v-1h1v-1h1v-6h-1v-1h-1v-1zM796 124h8v1h1v1h1v1h1v8h-1v1h-1v1h-1v1h-8v-1h-1v-1h-1v-1h-1v-8h1v-1h1v-1h1zM797 126v1h-1v1h-1v6h1v1h1v1h6v-1h1v-1h1v-6h-1v-1h-1v-1zM797 120h8v1h1v1h1v1h1v8h-1v1h-1v1h-1v1h-8v-1h-1v-1h-1v-1h-1v-8h1v-1h1v-1h1zM798 122v1h-1v1h-1v6h1v1h1v1h6v-1h1v-1h1v-6h-1v-1h-1v-1zM802 104h8v1h1v1h1v1h1v8h-1v1h-1v1h-1v1h-8v-1h-1v-1h-1v-1h-1v-8h1v-1h1v-1h1zM803 106v1h-1v1h-1v6h1v1h1v1h6v-1h1v-1h1v-6h-1v-1h-1v-1zM805 108h8v1h1v1h1v1h1v8h-1v1h-1v1h-1v1h-8v-1h-1v-1h-1v-1h-1v-8h1v-1h1v-1h1zM806 110v1h-1v1h-1v6h1v1h1v1h6v-1h1v-1h1v-6h-1v-1h-1v-1zM806 102h8v1h1v1h1v1h1v8h-1v1h-1v1h-1v1h-8v-1h-1v-1h-1v-1h-1v-8h1v-1h1v-1h1zM807 104v1h-1v1h-1v6h1v1h1v1h6v-1h1v-1h1v-6h-1v-1h-1v-1zM816 94h8v1h1v1h1v1h1v8h-1v1h-1v1h-1v1h-8v-1h-1v-1h-1v-1h-1v-8h1v-1h1v-1h1zM817 96v1h-1v1h-1v6h1v1h1v1h6v-1h1v-1h1v-6h-1v-1h-1v-1zM819 100h8v1h1v1h1v1h1v8h-1v1h-1v1h-1v1h-8v-1h-1v-1h-1v-1h-1v-8h1v-1h1v-1h1zM820 102v1h-1v1h-1v6h1v1h1v1h6v-1h1v-1h1v-6h-1v-1h-1v-1zM823 96h8v1h1v1h1v1h1v8h-1v1h-1v1h-1v1h-8v-1h-1v-1h-1v-1h-1v-8h1v-1h1v-1h1zM824 98v1h-1v1h-1v6h1v1h1v1h6v-1h1v-1h1v-6h-1v-1h-1v-1zM828 95h8v1h1v1h1v1h1v8h-1v1h-1v1h-1v1h-8v-1h-1v-1h-1v-1h-1v-8h1v-1h1v-1h1zM829 97v1h-1v1h-1v6h1v1h1v1h6v-1h1v-1h1v-6h-1v-1h-1v-1zM832 100h8v1h1v1h1v1h1v8h-1v1h-1v1h-1v1h-8v-1h-1v-1h-1v-1h-1v-8h1v-1h1v-1h1zM833 102v1h-1v1h-1v6h1v1h1v1h6v-1h1v-1h1v-6h-1v-1h-1v-1zM827 110h8v1h1v1h1v1h1v8h-1v1h-1v1h-1v1h-8v-1h-1v-1h-1v-1h-1v-8h1v-1h1v-1h1zM828 112v1h-1v1h-1v6h1v1h1v1h6v-1h1v-1h1v-6h-1v-1h-1v-1zM820 123h8v1h1v1h1v1h1v8h-1v1h-1v1h-1v1h-8v-1h-1v-1h-1v-1h-1v-8h1v-1h1v-1h1zM821 125v1h-1v1h-1v6h1v1h1v1h6v-1h1v-1h1v-6h-1v-1h-1v-1zM832 116h8v1h1v1h1v1h1v8h-1v1h-1v1h-1v1h-8v-1h-1v-1h-1v-1h-1v-8h1v-1h1v-1h1zM833 118v1h-1v1h-1v6h1v1h1v1h6v-1h1v-1h1v-6h-1v-1h-1v-1zM842 102h8v1h1v1h1v1h1v8h-1v1h-1v1h-1v1h-8v-1h-1v-1h-1v-1h-1v-8h1v-1h1v-1h1zM843 104v1h-1v1h-1v6h1v1h1v1h6v-1h1v-1h1v-6h-1v-1h-1v-1zM848 99h8v1h1v1h1v1h1v8h-1v1h-1v1h-1v1h-8v-1h-1v-1h-1v-1h-1v-8h1v-1h1v-1h1zM849 101v1h-1v1h-1v6h1v1h1v1h6v-1h1v-1h1v-6h-1v-1h-1v-1zM838 108h8v1h1v1h1v1h1v8h-1v1h-1v1h-1v1h-8v-1h-1v-1h-1v-1h-1v-8h1v-1h1v-1h1zM839 110v1h-1v1h-1v6h1v1h1v1h6v-1h1v-1h1v-6h-1v-1h-1v-1zM815 108h8v1h1v1h1v1h1v8h-1v1h-1v1h-1v1h-8v-1h-1v-1h-1v-1h-1v-8h1v-1h1v-1h1zM816 110v1h-1v1h-1v6h1v1h1v1h6v-1h1v-1h1v-6h-1v-1h-1v-1zM811 108h8v1h1v1h1v1h1v8h-1v1h-1v1h-1v1h-8v-1h-1v-1h-1v-1h-1v-8h1v-1h1v-1h1zM812 110v1h-1v1h-1v6h1v1h1v1h6v-1h1v-1h1v-6h-1v-1h-1v-1zM825 136h8v1h1v1h1v1h1v8h-1v1h-1v1h-1v1h-8v-1h-1v-1h-1v-1h-1v-8h1v-1h1v-1h1zM826 138v1h-1v1h-1v6h1v1h1v1h6v-1h1v-1h1v-6h-1v-1h-1v-1zM831 136h8v1h1v1h1v1h1v8h-1v1h-1v1h-1v1h-8v-1h-1v-1h-1v-1h-1v-8h1v-1h1v-1h1zM832 138v1h-1v1h-1v6h1v1h1v1h6v-1h1v-1h1v-6h-1v-1h-1v-1zM812 149h8v1h1v1h1v1h1v8h-1v1h-1v1h-1v1h-8v-1h-1v-1h-1v-1h-1v-8h1v-1h1v-1h1zM813 151v1h-1v1h-1v6h1v1h1v1h6v-1h1v-1h1v-6h-1v-1h-1v-1zM828 150h8v1h1v1h1v1h1v8h-1v1h-1v1h-1v1h-8v-1h-1v-1h-1v-1h-1v-8h1v-1h1v-1h1zM829 152v1h-1v1h-1v6h1v1h1v1h6v-1h1v-1h1v-6h-1v-1h-1v-1zM748 141h8v1h1v1h1v1h1v8h-1v1h-1v1h-1v1h-8v-1h-1v-1h-1v-1h-1v-8h1v-1h1v-1h1zM749 143v1h-1v1h-1v6h1v1h1v1h6v-1h1v-1h1v-6h-1v-1h-1v-1zM773 141h8v1h1v1h1v1h1v8h-1v1h-1v1h-1v1h-8v-1h-1v-1h-1v-1h-1v-8h1v-1h1v-1h1zM774 143v1h-1v1h-1v6h1v1h1v1h6v-1h1v-1h1v-6h-1v-1h-1v-1zM774 145h8v1h1v1h1v1h1v8h-1v1h-1v1h-1v1h-8v-1h-1v-1h-1v-1h-1v-8h1v-1h1v-1h1zM775 147v1h-1v1h-1v6h1v1h1v1h6v-1h1v-1h1v-6h-1v-1h-1v-1zM778 150h8v1h1v1h1v1h1v8h-1v1h-1v1h-1v1h-8v-1h-1v-1h-1v-1h-1v-8h1v-1h1v-1h1zM779 152v1h-1v1h-1v6h1v1h1v1h6v-1h1v-1h1v-6h-1v-1h-1v-1zM770 158h8v1h1v1h1v1h1v8h-1v1h-1v1h-1v1h-8v-1h-1v-1h-1v-1h-1v-8h1v-1h1v-1h1zM771 160v1h-1v1h-1v6h1v1h1v1h6v-1h1v-1h1v-6h-1v-1h-1v-1zM781 162h8v1h1v1h1v1h1v8h-1v1h-1v1h-1v1h-8v-1h-1v-1h-1v-1h-1v-8h1v-1h1v-1h1zM782 164v1h-1v1h-1v6h1v1h1v1h6v-1h1v-1h1v-6h-1v-1h-1v-1zM742 170h8v1h1v1h1v1h1v8h-1v1h-1v1h-1v1h-8v-1h-1v-1h-1v-1h-1v-8h1v-1h1v-1h1zM743 172v1h-1v1h-1v6h1v1h1v1h6v-1h1v-1h1v-6h-1v-1h-1v-1zM747 185h8v1h1v1h1v1h1v8h-1v1h-1v1h-1v1h-8v-1h-1v-1h-1v-1h-1v-8h1v-1h1v-1h1zM748 187v1h-1v1h-1v6h1v1h1v1h6v-1h1v-1h1v-6h-1v-1h-1v-1zM740 204h8v1h1v1h1v1h1v8h-1v1h-1v1h-1v1h-8v-1h-1v-1h-1v-1h-1v-8h1v-1h1v-1h1zM741 206v1h-1v1h-1v6h1v1h1v1h6v-1h1v-1h1v-6h-1v-1h-1v-1zM739 227h8v1h1v1h1v1h1v8h-1v1h-1v1h-1v1h-8v-1h-1v-1h-1v-1h-1v-8h1v-1h1v-1h1zM740 229v1h-1v1h-1v6h1v1h1v1h6v-1h1v-1h1v-6h-1v-1h-1v-1zM671 211h8v1h1v1h1v1h1v8h-1v1h-1v1h-1v1h-8v-1h-1v-1h-1v-1h-1v-8h1v-1h1v-1h1zM672 213v1h-1v1h-1v6h1v1h1v1h6v-1h1v-1h1v-6h-1v-1h-1v-1zM719 186h8v1h1v1h1v1h1v8h-1v1h-1v1h-1v1h-8v-1h-1v-1h-1v-1h-1v-8h1v-1h1v-1h1zM720 188v1h-1v1h-1v6h1v1h1v1h6v-1h1v-1h1v-6h-1v-1h-1v-1zM676 228h8v1h1v1h1v1h1v8h-1v1h-1v1h-1v1h-8v-1h-1v-1h-1v-1h-1v-8h1v-1h1v-1h1zM677 230v1h-1v1h-1v6h1v1h1v1h6v-1h1v-1h1v-6h-1v-1h-1v-1zM655 236h8v1h1v1h1v1h1v8h-1v1h-1v1h-1v1h-8v-1h-1v-1h-1v-1h-1v-8h1v-1h1v-1h1zM656 238v1h-1v1h-1v6h1v1h1v1h6v-1h1v-1h1v-6h-1v-1h-1v-1zM660 234h8v1h1v1h1v1h1v8h-1v1h-1v1h-1v1h-8v-1h-1v-1h-1v-1h-1v-8h1v-1h1v-1h1zM661 236v1h-1v1h-1v6h1v1h1v1h6v-1h1v-1h1v-6h-1v-1h-1v-1zM642 247h8v1h1v1h1v1h1v8h-1v1h-1v1h-1v1h-8v-1h-1v-1h-1v-1h-1v-8h1v-1h1v-1h1zM643 249v1h-1v1h-1v6h1v1h1v1h6v-1h1v-1h1v-6h-1v-1h-1v-1zM639 251h8v1h1v1h1v1h1v8h-1v1h-1v1h-1v1h-8v-1h-1v-1h-1v-1h-1v-8h1v-1h1v-1h1zM640 253v1h-1v1h-1v6h1v1h1v1h6v-1h1v-1h1v-6h-1v-1h-1v-1zM608 254h8v1h1v1h1v1h1v8h-1v1h-1v1h-1v1h-8v-1h-1v-1h-1v-1h-1v-8h1v-1h1v-1h1zM609 256v1h-1v1h-1v6h1v1h1v1h6v-1h1v-1h1v-6h-1v-1h-1v-1zM606 261h8v1h1v1h1v1h1v8h-1v1h-1v1h-1v1h-8v-1h-1v-1h-1v-1h-1v-8h1v-1h1v-1h1zM607 263v1h-1v1h-1v6h1v1h1v1h6v-1h1v-1h1v-6h-1v-1h-1v-1zM648 258h8v1h1v1h1v1h1v8h-1v1h-1v1h-1v1h-8v-1h-1v-1h-1v-1h-1v-8h1v-1h1v-1h1zM649 260v1h-1v1h-1v6h1v1h1v1h6v-1h1v-1h1v-6h-1v-1h-1v-1zM667 245h8v1h1v1h1v1h1v8h-1v1h-1v1h-1v1h-8v-1h-1v-1h-1v-1h-1v-8h1v-1h1v-1h1zM668 247v1h-1v1h-1v6h1v1h1v1h6v-1h1v-1h1v-6h-1v-1h-1v-1zM672 236h8v1h1v1h1v1h1v8h-1v1h-1v1h-1v1h-8v-1h-1v-1h-1v-1h-1v-8h1v-1h1v-1h1zM673 238v1h-1v1h-1v6h1v1h1v1h6v-1h1v-1h1v-6h-1v-1h-1v-1zM706 206h8v1h1v1h1v1h1v8h-1v1h-1v1h-1v1h-8v-1h-1v-1h-1v-1h-1v-8h1v-1h1v-1h1zM707 208v1h-1v1h-1v6h1v1h1v1h6v-1h1v-1h1v-6h-1v-1h-1v-1zM699 217h8v1h1v1h1v1h1v8h-1v1h-1v1h-1v1h-8v-1h-1v-1h-1v-1h-1v-8h1v-1h1v-1h1zM700 219v1h-1v1h-1v6h1v1h1v1h6v-1h1v-1h1v-6h-1v-1h-1v-1zM691 254h8v1h1v1h1v1h1v8h-1v1h-1v1h-1v1h-8v-1h-1v-1h-1v-1h-1v-8h1v-1h1v-1h1zM692 256v1h-1v1h-1v6h1v1h1v1h6v-1h1v-1h1v-6h-1v-1h-1v-1zM669 262h8v1h1v1h1v1h1v8h-1v1h-1v1h-1v1h-8v-1h-1v-1h-1v-1h-1v-8h1v-1h1v-1h1zM670 264v1h-1v1h-1v6h1v1h1v1h6v-1h1v-1h1v-6h-1v-1h-1v-1zM659 254h8v1h1v1h1v1h1v8h-1v1h-1v1h-1v1h-8v-1h-1v-1h-1v-1h-1v-8h1v-1h1v-1h1zM660 256v1h-1v1h-1v6h1v1h1v1h6v-1h1v-1h1v-6h-1v-1h-1v-1zM824 101h8v1h1v1h1v1h1v8h-1v1h-1v1h-1v1h-8v-1h-1v-1h-1v-1h-1v-8h1v-1h1v-1h1zM825 103v1h-1v1h-1v6h1v1h1v1h6v-1h1v-1h1v-6h-1v-1h-1v-1zM829 107h8v1h1v1h1v1h1v8h-1v1h-1v1h-1v1h-8v-1h-1v-1h-1v-1h-1v-8h1v-1h1v-1h1zM830 109v1h-1v1h-1v6h1v1h1v1h6v-1h1v-1h1v-6h-1v-1h-1v-1zM817 104h8v1h1v1h1v1h1v8h-1v1h-1v1h-1v1h-8v-1h-1v-1h-1v-1h-1v-8h1v-1h1v-1h1zM818 106v1h-1v1h-1v6h1v1h1v1h6v-1h1v-1h1v-6h-1v-1h-1v-1zM807 106h8v1h1v1h1v1h1v8h-1v1h-1v1h-1v1h-8v-1h-1v-1h-1v-1h-1v-8h1v-1h1v-1h1zM808 108v1h-1v1h-1v6h1v1h1v1h6v-1h1v-1h1v-6h-1v-1h-1v-1zM835 109h8v1h1v1h1v1h1v8h-1v1h-1v1h-1v1h-8v-1h-1v-1h-1v-1h-1v-8h1v-1h1v-1h1zM836 111v1h-1v1h-1v6h1v1h1v1h6v-1h1v-1h1v-6h-1v-1h-1v-1zM820 98h8v1h1v1h1v1h1v8h-1v1h-1v1h-1v1h-8v-1h-1v-1h-1v-1h-1v-8h1v-1h1v-1h1zM821 100v1h-1v1h-1v6h1v1h1v1h6v-1h1v-1h1v-6h-1v-1h-1v-1zM423 513h8v1h1v1h1v1h1v8h-1v1h-1v1h-1v1h-8v-1h-1v-1h-1v-1h-1v-8h1v-1h1v-1h1zM424 515v1h-1v1h-1v6h1v1h1v1h6v-1h1v-1h1v-6h-1v-1h-1v-1zM417 494h8v1h1v1h1v1h1v8h-1v1h-1v1h-1v1h-8v-1h-1v-1h-1v-1h-1v-8h1v-1h1v-1h1zM418 496v1h-1v1h-1v6h1v1h1v1h6v-1h1v-1h1v-6h-1v-1h-1v-1zM439 515h8v1h1v1h1v1h1v8h-1v1h-1v1h-1v1h-8v-1h-1v-1h-1v-1h-1v-8h1v-1h1v-1h1zM440 517v1h-1v1h-1v6h1v1h1v1h6v-1h1v-1h1v-6h-1v-1h-1v-1zM411 462h8v1h1v1h1v1h1v8h-1v1h-1v1h-1v1h-8v-1h-1v-1h-1v-1h-1v-8h1v-1h1v-1h1zM412 464v1h-1v1h-1v6h1v1h1v1h6v-1h1v-1h1v-6h-1v-1h-1v-1zM422 479h8v1h1v1h1v1h1v8h-1v1h-1v1h-1v1h-8v-1h-1v-1h-1v-1h-1v-8h1v-1h1v-1h1zM423 481v1h-1v1h-1v6h1v1h1v1h6v-1h1v-1h1v-6h-1v-1h-1v-1zM448 507h8v1h1v1h1v1h1v8h-1v1h-1v1h-1v1h-8v-1h-1v-1h-1v-1h-1v-8h1v-1h1v-1h1zM449 509v1h-1v1h-1v6h1v1h1v1h6v-1h1v-1h1v-6h-1v-1h-1v-1zM436 473h8v1h1v1h1v1h1v8h-1v1h-1v1h-1v1h-8v-1h-1v-1h-1v-1h-1v-8h1v-1h1v-1h1zM437 475v1h-1v1h-1v6h1v1h1v1h6v-1h1v-1h1v-6h-1v-1h-1v-1zM437 470h8v1h1v1h1v1h1v8h-1v1h-1v1h-1v1h-8v-1h-1v-1h-1v-1h-1v-8h1v-1h1v-1h1zM438 472v1h-1v1h-1v6h1v1h1v1h6v-1h1v-1h1v-6h-1v-1h-1v-1zM447 471h8v1h1v1h1v1h1v8h-1v1h-1v1h-1v1h-8v-1h-1v-1h-1v-1h-1v-8h1v-1h1v-1h1zM448 473v1h-1v1h-1v6h1v1h1v1h6v-1h1v-1h1v-6h-1v-1h-1v-1zM460 485h8v1h1v1h1v1h1v8h-1v1h-1v1h-1v1h-8v-1h-1v-1h-1v-1h-1v-8h1v-1h1v-1h1zM461 487v1h-1v1h-1v6h1v1h1v1h6v-1h1v-1h1v-6h-1v-1h-1v-1zM463 458h8v1h1v1h1v1h1v8h-1v1h-1v1h-1v1h-8v-1h-1v-1h-1v-1h-1v-8h1v-1h1v-1h1zM464 460v1h-1v1h-1v6h1v1h1v1h6v-1h1v-1h1v-6h-1v-1h-1v-1zM465 468h8v1h1v1h1v1h1v8h-1v1h-1v1h-1v1h-8v-1h-1v-1h-1v-1h-1v-8h1v-1h1v-1h1zM466 470v1h-1v1h-1v6h1v1h1v1h6v-1h1v-1h1v-6h-1v-1h-1v-1zM470 468h8v1h1v1h1v1h1v8h-1v1h-1v1h-1v1h-8v-1h-1v-1h-1v-1h-1v-8h1v-1h1v-1h1zM471 470v1h-1v1h-1v6h1v1h1v1h6v-1h1v-1h1v-6h-1v-1h-1v-1zM472 470h8v1h1v1h1v1h1v8h-1v1h-1v1h-1v1h-8v-1h-1v-1h-1v-1h-1v-8h1v-1h1v-1h1zM473 472v1h-1v1h-1v6h1v1h1v1h6v-1h1v-1h1v-6h-1v-1h-1v-1zM468 476h8v1h1v1h1v1h1v8h-1v1h-1v1h-1v1h-8v-1h-1v-1h-1v-1h-1v-8h1v-1h1v-1h1zM469 478v1h-1v1h-1v6h1v1h1v1h6v-1h1v-1h1v-6h-1v-1h-1v-1zM466 454h8v1h1v1h1v1h1v8h-1v1h-1v1h-1v1h-8v-1h-1v-1h-1v-1h-1v-8h1v-1h1v-1h1zM467 456v1h-1v1h-1v6h1v1h1v1h6v-1h1v-1h1v-6h-1v-1h-1v-1zM491 474h8v1h1v1h1v1h1v8h-1v1h-1v1h-1v1h-8v-1h-1v-1h-1v-1h-1v-8h1v-1h1v-1h1zM492 476v1h-1v1h-1v6h1v1h1v1h6v-1h1v-1h1v-6h-1v-1h-1v-1zM478 443h8v1h1v1h1v1h1v8h-1v1h-1v1h-1v1h-8v-1h-1v-1h-1v-1h-1v-8h1v-1h1v-1h1zM479 445v1h-1v1h-1v6h1v1h1v1h6v-1h1v-1h1v-6h-1v-1h-1v-1zM482 457h8v1h1v1h1v1h1v8h-1v1h-1v1h-1v1h-8v-1h-1v-1h-1v-1h-1v-8h1v-1h1v-1h1zM483 459v1h-1v1h-1v6h1v1h1v1h6v-1h1v-1h1v-6h-1v-1h-1v-1zM492 436h8v1h1v1h1v1h1v8h-1v1h-1v1h-1v1h-8v-1h-1v-1h-1v-1h-1v-8h1v-1h1v-1h1zM493 438v1h-1v1h-1v6h1v1h1v1h6v-1h1v-1h1v-6h-1v-1h-1v-1zM501 443h8v1h1v1h1v1h1v8h-1v1h-1v1h-1v1h-8v-1h-1v-1h-1v-1h-1v-8h1v-1h1v-1h1zM502 445v1h-1v1h-1v6h1v1h1v1h6v-1h1v-1h1v-6h-1v-1h-1v-1zM510 438h8v1h1v1h1v1h1v8h-1v1h-1v1h-1v1h-8v-1h-1v-1h-1v-1h-1v-8h1v-1h1v-1h1zM511 440v1h-1v1h-1v6h1v1h1v1h6v-1h1v-1h1v-6h-1v-1h-1v-1zM518 454h8v1h1v1h1v1h1v8h-1v1h-1v1h-1v1h-8v-1h-1v-1h-1v-1h-1v-8h1v-1h1v-1h1zM519 456v1h-1v1h-1v6h1v1h1v1h6v-1h1v-1h1v-6h-1v-1h-1v-1zM511 425h8v1h1v1h1v1h1v8h-1v1h-1v1h-1v1h-8v-1h-1v-1h-1v-1h-1v-8h1v-1h1v-1h1zM512 427v1h-1v1h-1v6h1v1h1v1h6v-1h1v-1h1v-6h-1v-1h-1v-1zM512 430h8v1h1v1h1v1h1v8h-1v1h-1v1h-1v1h-8v-1h-1v-1h-1v-1h-1v-8h1v-1h1v-1h1zM513 432v1h-1v1h-1v6h1v1h1v1h6v-1h1v-1h1v-6h-1v-1h-1v-1zM517 427h8v1h1v1h1v1h1v8h-1v1h-1v1h-1v1h-8v-1h-1v-1h-1v-1h-1v-8h1v-1h1v-1h1zM518 429v1h-1v1h-1v6h1v1h1v1h6v-1h1v-1h1v-6h-1v-1h-1v-1zM492 393h8v1h1v1h1v1h1v8h-1v1h-1v1h-1v1h-8v-1h-1v-1h-1v-1h-1v-8h1v-1h1v-1h1zM493 395v1h-1v1h-1v6h1v1h1v1h6v-1h1v-1h1v-6h-1v-1h-1v-1zM515 411h8v1h1v1h1v1h1v8h-1v1h-1v1h-1v1h-8v-1h-1v-1h-1v-1h-1v-8h1v-1h1v-1h1zM516 413v1h-1v1h-1v6h1v1h1v1h6v-1h1v-1h1v-6h-1v-1h-1v-1zM532 396h8v1h1v1h1v1h1v8h-1v1h-1v1h-1v1h-8v-1h-1v-1h-1v-1h-1v-8h1v-1h1v-1h1zM533 398v1h-1v1h-1v6h1v1h1v1h6v-1h1v-1h1v-6h-1v-1h-1v-1zM530 401h8v1h1v1h1v1h1v8h-1v1h-1v1h-1v1h-8v-1h-1v-1h-1v-1h-1v-8h1v-1h1v-1h1zM531 403v1h-1v1h-1v6h1v1h1v1h6v-1h1v-1h1v-6h-1v-1h-1v-1zM529 404h8v1h1v1h1v1h1v8h-1v1h-1v1h-1v1h-8v-1h-1v-1h-1v-1h-1v-8h1v-1h1v-1h1zM530 406v1h-1v1h-1v6h1v1h1v1h6v-1h1v-1h1v-6h-1v-1h-1v-1zM535 403h8v1h1v1h1v1h1v8h-1v1h-1v1h-1v1h-8v-1h-1v-1h-1v-1h-1v-8h1v-1h1v-1h1zM536 405v1h-1v1h-1v6h1v1h1v1h6v-1h1v-1h1v-6h-1v-1h-1v-1zM534 402h8v1h1v1h1v1h1v8h-1v1h-1v1h-1v1h-8v-1h-1v-1h-1v-1h-1v-8h1v-1h1v-1h1zM535 404v1h-1v1h-1v6h1v1h1v1h6v-1h1v-1h1v-6h-1v-1h-1v-1zM535 397h8v1h1v1h1v1h1v8h-1v1h-1v1h-1v1h-8v-1h-1v-1h-1v-1h-1v-8h1v-1h1v-1h1zM536 399v1h-1v1h-1v6h1v1h1v1h6v-1h1v-1h1v-6h-1v-1h-1v-1zM538 409h8v1h1v1h1v1h1v8h-1v1h-1v1h-1v1h-8v-1h-1v-1h-1v-1h-1v-8h1v-1h1v-1h1zM539 411v1h-1v1h-1v6h1v1h1v1h6v-1h1v-1h1v-6h-1v-1h-1v-1zM538 393h8v1h1v1h1v1h1v8h-1v1h-1v1h-1v1h-8v-1h-1v-1h-1v-1h-1v-8h1v-1h1v-1h1zM539 395v1h-1v1h-1v6h1v1h1v1h6v-1h1v-1h1v-6h-1v-1h-1v-1zM552 403h8v1h1v1h1v1h1v8h-1v1h-1v1h-1v1h-8v-1h-1v-1h-1v-1h-1v-8h1v-1h1v-1h1zM553 405v1h-1v1h-1v6h1v1h1v1h6v-1h1v-1h1v-6h-1v-1h-1v-1zM555 399h8v1h1v1h1v1h1v8h-1v1h-1v1h-1v1h-8v-1h-1v-1h-1v-1h-1v-8h1v-1h1v-1h1zM556 401v1h-1v1h-1v6h1v1h1v1h6v-1h1v-1h1v-6h-1v-1h-1v-1zM538 368h8v1h1v1h1v1h1v8h-1v1h-1v1h-1v1h-8v-1h-1v-1h-1v-1h-1v-8h1v-1h1v-1h1zM539 370v1h-1v1h-1v6h1v1h1v1h6v-1h1v-1h1v-6h-1v-1h-1v-1zM540 375h8v1h1v1h1v1h1v8h-1v1h-1v1h-1v1h-8v-1h-1v-1h-1v-1h-1v-8h1v-1h1v-1h1zM541 377v1h-1v1h-1v6h1v1h1v1h6v-1h1v-1h1v-6h-1v-1h-1v-1zM543 376h8v1h1v1h1v1h1v8h-1v1h-1v1h-1v1h-8v-1h-1v-1h-1v-1h-1v-8h1v-1h1v-1h1zM544 378v1h-1v1h-1v6h1v1h1v1h6v-1h1v-1h1v-6h-1v-1h-1v-1zM547 375h8v1h1v1h1v1h1v8h-1v1h-1v1h-1v1h-8v-1h-1v-1h-1v-1h-1v-8h1v-1h1v-1h1zM548 377v1h-1v1h-1v6h1v1h1v1h6v-1h1v-1h1v-6h-1v-1h-1v-1zM555 382h8v1h1v1h1v1h1v8h-1v1h-1v1h-1v1h-8v-1h-1v-1h-1v-1h-1v-8h1v-1h1v-1h1zM556 384v1h-1v1h-1v6h1v1h1v1h6v-1h1v-1h1v-6h-1v-1h-1v-1zM554 379h8v1h1v1h1v1h1v8h-1v1h-1v1h-1v1h-8v-1h-1v-1h-1v-1h-1v-8h1v-1h1v-1h1zM555 381v1h-1v1h-1v6h1v1h1v1h6v-1h1v-1h1v-6h-1v-1h-1v-1zM542 352h8v1h1v1h1v1h1v8h-1v1h-1v1h-1v1h-8v-1h-1v-1h-1v-1h-1v-8h1v-1h1v-1h1zM543 354v1h-1v1h-1v6h1v1h1v1h6v-1h1v-1h1v-6h-1v-1h-1v-1zM548 356h8v1h1v1h1v1h1v8h-1v1h-1v1h-1v1h-8v-1h-1v-1h-1v-1h-1v-8h1v-1h1v-1h1zM549 358v1h-1v1h-1v6h1v1h1v1h6v-1h1v-1h1v-6h-1v-1h-1v-1zM552 365h8v1h1v1h1v1h1v8h-1v1h-1v1h-1v1h-8v-1h-1v-1h-1v-1h-1v-8h1v-1h1v-1h1zM553 367v1h-1v1h-1v6h1v1h1v1h6v-1h1v-1h1v-6h-1v-1h-1v-1zM548 372h8v1h1v1h1v1h1v8h-1v1h-1v1h-1v1h-8v-1h-1v-1h-1v-1h-1v-8h1v-1h1v-1h1zM549 374v1h-1v1h-1v6h1v1h1v1h6v-1h1v-1h1v-6h-1v-1h-1v-1zM561 371h8v1h1v1h1v1h1v8h-1v1h-1v1h-1v1h-8v-1h-1v-1h-1v-1h-1v-8h1v-1h1v-1h1zM562 373v1h-1v1h-1v6h1v1h1v1h6v-1h1v-1h1v-6h-1v-1h-1v-1zM561 370h8v1h1v1h1v1h1v8h-1v1h-1v1h-1v1h-8v-1h-1v-1h-1v-1h-1v-8h1v-1h1v-1h1zM562 372v1h-1v1h-1v6h1v1h1v1h6v-1h1v-1h1v-6h-1v-1h-1v-1zM544 347h8v1h1v1h1v1h1v8h-1v1h-1v1h-1v1h-8v-1h-1v-1h-1v-1h-1v-8h1v-1h1v-1h1zM545 349v1h-1v1h-1v6h1v1h1v1h6v-1h1v-1h1v-6h-1v-1h-1v-1zM565 358h8v1h1v1h1v1h1v8h-1v1h-1v1h-1v1h-8v-1h-1v-1h-1v-1h-1v-8h1v-1h1v-1h1zM566 360v1h-1v1h-1v6h1v1h1v1h6v-1h1v-1h1v-6h-1v-1h-1v-1zM580 371h8v1h1v1h1v1h1v8h-1v1h-1v1h-1v1h-8v-1h-1v-1h-1v-1h-1v-8h1v-1h1v-1h1zM581 373v1h-1v1h-1v6h1v1h1v1h6v-1h1v-1h1v-6h-1v-1h-1v-1zM578 377h8v1h1v1h1v1h1v8h-1v1h-1v1h-1v1h-8v-1h-1v-1h-1v-1h-1v-8h1v-1h1v-1h1zM579 379v1h-1v1h-1v6h1v1h1v1h6v-1h1v-1h1v-6h-1v-1h-1v-1zM579 372h8v1h1v1h1v1h1v8h-1v1h-1v1h-1v1h-8v-1h-1v-1h-1v-1h-1v-8h1v-1h1v-1h1zM580 374v1h-1v1h-1v6h1v1h1v1h6v-1h1v-1h1v-6h-1v-1h-1v-1zM575 374h8v1h1v1h1v1h1v8h-1v1h-1v1h-1v1h-8v-1h-1v-1h-1v-1h-1v-8h1v-1h1v-1h1zM576 376v1h-1v1h-1v6h1v1h1v1h6v-1h1v-1h1v-6h-1v-1h-1v-1zM592 389h8v1h1v1h1v1h1v8h-1v1h-1v1h-1v1h-8v-1h-1v-1h-1v-1h-1v-8h1v-1h1v-1h1zM593 391v1h-1v1h-1v6h1v1h1v1h6v-1h1v-1h1v-6h-1v-1h-1v-1zM563 351h8v1h1v1h1v1h1v8h-1v1h-1v1h-1v1h-8v-1h-1v-1h-1v-1h-1v-8h1v-1h1v-1h1zM564 353v1h-1v1h-1v6h1v1h1v1h6v-1h1v-1h1v-6h-1v-1h-1v-1zM565 348h8v1h1v1h1v1h1v8h-1v1h-1v1h-1v1h-8v-1h-1v-1h-1v-1h-1v-8h1v-1h1v-1h1zM566 350v1h-1v1h-1v6h1v1h1v1h6v-1h1v-1h1v-6h-1v-1h-1v-1zM563 348h8v1h1v1h1v1h1v8h-1v1h-1v1h-1v1h-8v-1h-1v-1h-1v-1h-1v-8h1v-1h1v-1h1zM564 350v1h-1v1h-1v6h1v1h1v1h6v-1h1v-1h1v-6h-1v-1h-1v-1zM568 344h8v1h1v1h1v1h1v8h-1v1h-1v1h-1v1h-8v-1h-1v-1h-1v-1h-1v-8h1v-1h1v-1h1zM569 346v1h-1v1h-1v6h1v1h1v1h6v-1h1v-1h1v-6h-1v-1h-1v-1zM570 358h8v1h1v1h1v1h1v8h-1v1h-1v1h-1v1h-8v-1h-1v-1h-1v-1h-1v-8h1v-1h1v-1h1zM571 360v1h-1v1h-1v6h1v1h1v1h6v-1h1v-1h1v-6h-1v-1h-1v-1zM574 362h8v1h1v1h1v1h1v8h-1v1h-1v1h-1v1h-8v-1h-1v-1h-1v-1h-1v-8h1v-1h1v-1h1zM575 364v1h-1v1h-1v6h1v1h1v1h6v-1h1v-1h1v-6h-1v-1h-1v-1zM577 359h8v1h1v1h1v1h1v8h-1v1h-1v1h-1v1h-8v-1h-1v-1h-1v-1h-1v-8h1v-1h1v-1h1zM578 361v1h-1v1h-1v6h1v1h1v1h6v-1h1v-1h1v-6h-1v-1h-1v-1zM584 359h8v1h1v1h1v1h1v8h-1v1h-1v1h-1v1h-8v-1h-1v-1h-1v-1h-1v-8h1v-1h1v-1h1zM585 361v1h-1v1h-1v6h1v1h1v1h6v-1h1v-1h1v-6h-1v-1h-1v-1zM563 334h8v1h1v1h1v1h1v8h-1v1h-1v1h-1v1h-8v-1h-1v-1h-1v-1h-1v-8h1v-1h1v-1h1zM564 336v1h-1v1h-1v6h1v1h1v1h6v-1h1v-1h1v-6h-1v-1h-1v-1zM563 329h8v1h1v1h1v1h1v8h-1v1h-1v1h-1v1h-8v-1h-1v-1h-1v-1h-1v-8h1v-1h1v-1h1zM564 331v1h-1v1h-1v6h1v1h1v1h6v-1h1v-1h1v-6h-1v-1h-1v-1zM562 327h8v1h1v1h1v1h1v8h-1v1h-1v1h-1v1h-8v-1h-1v-1h-1v-1h-1v-8h1v-1h1v-1h1zM563 329v1h-1v1h-1v6h1v1h1v1h6v-1h1v-1h1v-6h-1v-1h-1v-1zM559 332h8v1h1v1h1v1h1v8h-1v1h-1v1h-1v1h-8v-1h-1v-1h-1v-1h-1v-8h1v-1h1v-1h1zM560 334v1h-1v1h-1v6h1v1h1v1h6v-1h1v-1h1v-6h-1v-1h-1v-1zM566 330h8v1h1v1h1v1h1v8h-1v1h-1v1h-1v1h-8v-1h-1v-1h-1v-1h-1v-8h1v-1h1v-1h1zM567 332v1h-1v1h-1v6h1v1h1v1h6v-1h1v-1h1v-6h-1v-1h-1v-1zM571 332h8v1h1v1h1v1h1v8h-1v1h-1v1h-1v1h-8v-1h-1v-1h-1v-1h-1v-8h1v-1h1v-1h1zM572 334v1h-1v1h-1v6h1v1h1v1h6v-1h1v-1h1v-6h-1v-1h-1v-1zM563 335h8v1h1v1h1v1h1v8h-1v1h-1v1h-1v1h-8v-1h-1v-1h-1v-1h-1v-8h1v-1h1v-1h1zM564 337v1h-1v1h-1v6h1v1h1v1h6v-1h1v-1h1v-6h-1v-1h-1v-1zM570 330h8v1h1v1h1v1h1v8h-1v1h-1v1h-1v1h-8v-1h-1v-1h-1v-1h-1v-8h1v-1h1v-1h1zM571 332v1h-1v1h-1v6h1v1h1v1h6v-1h1v-1h1v-6h-1v-1h-1v-1zM569 342h8v1h1v1h1v1h1v8h-1v1h-1v1h-1v1h-8v-1h-1v-1h-1v-1h-1v-8h1v-1h1v-1h1zM570 344v1h-1v1h-1v6h1v1h1v1h6v-1h1v-1h1v-6h-1v-1h-1v-1zM574 343h8v1h1v1h1v1h1v8h-1v1h-1v1h-1v1h-8v-1h-1v-1h-1v-1h-1v-8h1v-1h1v-1h1zM575 345v1h-1v1h-1v6h1v1h1v1h6v-1h1v-1h1v-6h-1v-1h-1v-1zM578 349h8v1h1v1h1v1h1v8h-1v1h-1v1h-1v1h-8v-1h-1v-1h-1v-1h-1v-8h1v-1h1v-1h1zM579 351v1h-1v1h-1v6h1v1h1v1h6v-1h1v-1h1v-6h-1v-1h-1v-1zM581 353h8v1h1v1h1v1h1v8h-1v1h-1v1h-1v1h-8v-1h-1v-1h-1v-1h-1v-8h1v-1h1v-1h1zM582 355v1h-1v1h-1v6h1v1h1v1h6v-1h1v-1h1v-6h-1v-1h-1v-1zM582 351h8v1h1v1h1v1h1v8h-1v1h-1v1h-1v1h-8v-1h-1v-1h-1v-1h-1v-8h1v-1h1v-1h1zM583 353v1h-1v1h-1v6h1v1h1v1h6v-1h1v-1h1v-6h-1v-1h-1v-1zM584 336h8v1h1v1h1v1h1v8h-1v1h-1v1h-1v1h-8v-1h-1v-1h-1v-1h-1v-8h1v-1h1v-1h1zM585 338v1h-1v1h-1v6h1v1h1v1h6v-1h1v-1h1v-6h-1v-1h-1v-1zM586 333h8v1h1v1h1v1h1v8h-1v1h-1v1h-1v1h-8v-1h-1v-1h-1v-1h-1v-8h1v-1h1v-1h1zM587 335v1h-1v1h-1v6h1v1h1v1h6v-1h1v-1h1v-6h-1v-1h-1v-1zM588 341h8v1h1v1h1v1h1v8h-1v1h-1v1h-1v1h-8v-1h-1v-1h-1v-1h-1v-8h1v-1h1v-1h1zM589 343v1h-1v1h-1v6h1v1h1v1h6v-1h1v-1h1v-6h-1v-1h-1v-1zM591 346h8v1h1v1h1v1h1v8h-1v1h-1v1h-1v1h-8v-1h-1v-1h-1v-1h-1v-8h1v-1h1v-1h1zM592 348v1h-1v1h-1v6h1v1h1v1h6v-1h1v-1h1v-6h-1v-1h-1v-1zM592 343h8v1h1v1h1v1h1v8h-1v1h-1v1h-1v1h-8v-1h-1v-1h-1v-1h-1v-8h1v-1h1v-1h1zM593 345v1h-1v1h-1v6h1v1h1v1h6v-1h1v-1h1v-6h-1v-1h-1v-1zM589 343h8v1h1v1h1v1h1v8h-1v1h-1v1h-1v1h-8v-1h-1v-1h-1v-1h-1v-8h1v-1h1v-1h1zM590 345v1h-1v1h-1v6h1v1h1v1h6v-1h1v-1h1v-6h-1v-1h-1v-1zM598 340h8v1h1v1h1v1h1v8h-1v1h-1v1h-1v1h-8v-1h-1v-1h-1v-1h-1v-8h1v-1h1v-1h1zM599 342v1h-1v1h-1v6h1v1h1v1h6v-1h1v-1h1v-6h-1v-1h-1v-1zM595 339h8v1h1v1h1v1h1v8h-1v1h-1v1h-1v1h-8v-1h-1v-1h-1v-1h-1v-8h1v-1h1v-1h1zM596 341v1h-1v1h-1v6h1v1h1v1h6v-1h1v-1h1v-6h-1v-1h-1v-1zM583 316h8v1h1v1h1v1h1v8h-1v1h-1v1h-1v1h-8v-1h-1v-1h-1v-1h-1v-8h1v-1h1v-1h1zM584 318v1h-1v1h-1v6h1v1h1v1h6v-1h1v-1h1v-6h-1v-1h-1v-1zM585 320h8v1h1v1h1v1h1v8h-1v1h-1v1h-1v1h-8v-1h-1v-1h-1v-1h-1v-8h1v-1h1v-1h1zM586 322v1h-1v1h-1v6h1v1h1v1h6v-1h1v-1h1v-6h-1v-1h-1v-1zM595 319h8v1h1v1h1v1h1v8h-1v1h-1v1h-1v1h-8v-1h-1v-1h-1v-1h-1v-8h1v-1h1v-1h1zM596 321v1h-1v1h-1v6h1v1h1v1h6v-1h1v-1h1v-6h-1v-1h-1v-1zM599 333h8v1h1v1h1v1h1v8h-1v1h-1v1h-1v1h-8v-1h-1v-1h-1v-1h-1v-8h1v-1h1v-1h1zM600 335v1h-1v1h-1v6h1v1h1v1h6v-1h1v-1h1v-6h-1v-1h-1v-1zM609 334h8v1h1v1h1v1h1v8h-1v1h-1v1h-1v1h-8v-1h-1v-1h-1v-1h-1v-8h1v-1h1v-1h1zM610 336v1h-1v1h-1v6h1v1h1v1h6v-1h1v-1h1v-6h-1v-1h-1v-1zM602 339h8v1h1v1h1v1h1v8h-1v1h-1v1h-1v1h-8v-1h-1v-1h-1v-1h-1v-8h1v-1h1v-1h1zM603 341v1h-1v1h-1v6h1v1h1v1h6v-1h1v-1h1v-6h-1v-1h-1v-1zM613 338h8v1h1v1h1v1h1v8h-1v1h-1v1h-1v1h-8v-1h-1v-1h-1v-1h-1v-8h1v-1h1v-1h1zM614 340v1h-1v1h-1v6h1v1h1v1h6v-1h1v-1h1v-6h-1v-1h-1v-1zM612 337h8v1h1v1h1v1h1v8h-1v1h-1v1h-1v1h-8v-1h-1v-1h-1v-1h-1v-8h1v-1h1v-1h1zM613 339v1h-1v1h-1v6h1v1h1v1h6v-1h1v-1h1v-6h-1v-1h-1v-1zM584 299h8v1h1v1h1v1h1v8h-1v1h-1v1h-1v1h-8v-1h-1v-1h-1v-1h-1v-8h1v-1h1v-1h1zM585 301v1h-1v1h-1v6h1v1h1v1h6v-1h1v-1h1v-6h-1v-1h-1v-1zM595 310h8v1h1v1h1v1h1v8h-1v1h-1v1h-1v1h-8v-1h-1v-1h-1v-1h-1v-8h1v-1h1v-1h1zM596 312v1h-1v1h-1v6h1v1h1v1h6v-1h1v-1h1v-6h-1v-1h-1v-1zM593 312h8v1h1v1h1v1h1v8h-1v1h-1v1h-1v1h-8v-1h-1v-1h-1v-1h-1v-8h1v-1h1v-1h1zM594 314v1h-1v1h-1v6h1v1h1v1h6v-1h1v-1h1v-6h-1v-1h-1v-1zM593 307h8v1h1v1h1v1h1v8h-1v1h-1v1h-1v1h-8v-1h-1v-1h-1v-1h-1v-8h1v-1h1v-1h1zM594 309v1h-1v1h-1v6h1v1h1v1h6v-1h1v-1h1v-6h-1v-1h-1v-1zM606 324h8v1h1v1h1v1h1v8h-1v1h-1v1h-1v1h-8v-1h-1v-1h-1v-1h-1v-8h1v-1h1v-1h1zM607 326v1h-1v1h-1v6h1v1h1v1h6v-1h1v-1h1v-6h-1v-1h-1v-1zM604 324h8v1h1v1h1v1h1v8h-1v1h-1v1h-1v1h-8v-1h-1v-1h-1v-1h-1v-8h1v-1h1v-1h1zM605 326v1h-1v1h-1v6h1v1h1v1h6v-1h1v-1h1v-6h-1v-1h-1v-1zM610 330h8v1h1v1h1v1h1v8h-1v1h-1v1h-1v1h-8v-1h-1v-1h-1v-1h-1v-8h1v-1h1v-1h1zM611 332v1h-1v1h-1v6h1v1h1v1h6v-1h1v-1h1v-6h-1v-1h-1v-1zM616 328h8v1h1v1h1v1h1v8h-1v1h-1v1h-1v1h-8v-1h-1v-1h-1v-1h-1v-8h1v-1h1v-1h1zM617 330v1h-1v1h-1v6h1v1h1v1h6v-1h1v-1h1v-6h-1v-1h-1v-1zM610 331h8v1h1v1h1v1h1v8h-1v1h-1v1h-1v1h-8v-1h-1v-1h-1v-1h-1v-8h1v-1h1v-1h1zM611 333v1h-1v1h-1v6h1v1h1v1h6v-1h1v-1h1v-6h-1v-1h-1v-1zM612 305h8v1h1v1h1v1h1v8h-1v1h-1v1h-1v1h-8v-1h-1v-1h-1v-1h-1v-8h1v-1h1v-1h1zM613 307v1h-1v1h-1v6h1v1h1v1h6v-1h1v-1h1v-6h-1v-1h-1v-1zM611 316h8v1h1v1h1v1h1v8h-1v1h-1v1h-1v1h-8v-1h-1v-1h-1v-1h-1v-8h1v-1h1v-1h1zM612 318v1h-1v1h-1v6h1v1h1v1h6v-1h1v-1h1v-6h-1v-1h-1v-1zM622 314h8v1h1v1h1v1h1v8h-1v1h-1v1h-1v1h-8v-1h-1v-1h-1v-1h-1v-8h1v-1h1v-1h1zM623 316v1h-1v1h-1v6h1v1h1v1h6v-1h1v-1h1v-6h-1v-1h-1v-1zM618 314h8v1h1v1h1v1h1v8h-1v1h-1v1h-1v1h-8v-1h-1v-1h-1v-1h-1v-8h1v-1h1v-1h1zM619 316v1h-1v1h-1v6h1v1h1v1h6v-1h1v-1h1v-6h-1v-1h-1v-1zM626 322h8v1h1v1h1v1h1v8h-1v1h-1v1h-1v1h-8v-1h-1v-1h-1v-1h-1v-8h1v-1h1v-1h1zM627 324v1h-1v1h-1v6h1v1h1v1h6v-1h1v-1h1v-6h-1v-1h-1v-1zM627 322h8v1h1v1h1v1h1v8h-1v1h-1v1h-1v1h-8v-1h-1v-1h-1v-1h-1v-8h1v-1h1v-1h1zM628 324v1h-1v1h-1v6h1v1h1v1h6v-1h1v-1h1v-6h-1v-1h-1v-1zM633 330h8v1h1v1h1v1h1v8h-1v1h-1v1h-1v1h-8v-1h-1v-1h-1v-1h-1v-8h1v-1h1v-1h1zM634 332v1h-1v1h-1v6h1v1h1v1h6v-1h1v-1h1v-6h-1v-1h-1v-1zM636 331h8v1h1v1h1v1h1v8h-1v1h-1v1h-1v1h-8v-1h-1v-1h-1v-1h-1v-8h1v-1h1v-1h1zM637 333v1h-1v1h-1v6h1v1h1v1h6v-1h1v-1h1v-6h-1v-1h-1v-1zM609 297h8v1h1v1h1v1h1v8h-1v1h-1v1h-1v1h-8v-1h-1v-1h-1v-1h-1v-8h1v-1h1v-1h1zM610 299v1h-1v1h-1v6h1v1h1v1h6v-1h1v-1h1v-6h-1v-1h-1v-1zM613 298h8v1h1v1h1v1h1v8h-1v1h-1v1h-1v1h-8v-1h-1v-1h-1v-1h-1v-8h1v-1h1v-1h1zM614 300v1h-1v1h-1v6h1v1h1v1h6v-1h1v-1h1v-6h-1v-1h-1v-1zM620 300h8v1h1v1h1v1h1v8h-1v1h-1v1h-1v1h-8v-1h-1v-1h-1v-1h-1v-8h1v-1h1v-1h1zM621 302v1h-1v1h-1v6h1v1h1v1h6v-1h1v-1h1v-6h-1v-1h-1v-1zM619 306h8v1h1v1h1v1h1v8h-1v1h-1v1h-1v1h-8v-1h-1v-1h-1v-1h-1v-8h1v-1h1v-1h1zM620 308v1h-1v1h-1v6h1v1h1v1h6v-1h1v-1h1v-6h-1v-1h-1v-1zM623 306h8v1h1v1h1v1h1v8h-1v1h-1v1h-1v1h-8v-1h-1v-1h-1v-1h-1v-8h1v-1h1v-1h1zM624 308v1h-1v1h-1v6h1v1h1v1h6v-1h1v-1h1v-6h-1v-1h-1v-1zM631 310h8v1h1v1h1v1h1v8h-1v1h-1v1h-1v1h-8v-1h-1v-1h-1v-1h-1v-8h1v-1h1v-1h1zM632 312v1h-1v1h-1v6h1v1h1v1h6v-1h1v-1h1v-6h-1v-1h-1v-1zM641 324h8v1h1v1h1v1h1v8h-1v1h-1v1h-1v1h-8v-1h-1v-1h-1v-1h-1v-8h1v-1h1v-1h1zM642 326v1h-1v1h-1v6h1v1h1v1h6v-1h1v-1h1v-6h-1v-1h-1v-1zM638 325h8v1h1v1h1v1h1v8h-1v1h-1v1h-1v1h-8v-1h-1v-1h-1v-1h-1v-8h1v-1h1v-1h1zM639 327v1h-1v1h-1v6h1v1h1v1h6v-1h1v-1h1v-6h-1v-1h-1v-1zM642 329h8v1h1v1h1v1h1v8h-1v1h-1v1h-1v1h-8v-1h-1v-1h-1v-1h-1v-8h1v-1h1v-1h1zM643 331v1h-1v1h-1v6h1v1h1v1h6v-1h1v-1h1v-6h-1v-1h-1v-1zM642 331h8v1h1v1h1v1h1v8h-1v1h-1v1h-1v1h-8v-1h-1v-1h-1v-1h-1v-8h1v-1h1v-1h1zM643 333v1h-1v1h-1v6h1v1h1v1h6v-1h1v-1h1v-6h-1v-1h-1v-1zM650 329h8v1h1v1h1v1h1v8h-1v1h-1v1h-1v1h-8v-1h-1v-1h-1v-1h-1v-8h1v-1h1v-1h1zM651 331v1h-1v1h-1v6h1v1h1v1h6v-1h1v-1h1v-6h-1v-1h-1v-1zM622 289h8v1h1v1h1v1h1v8h-1v1h-1v1h-1v1h-8v-1h-1v-1h-1v-1h-1v-8h1v-1h1v-1h1zM623 291v1h-1v1h-1v6h1v1h1v1h6v-1h1v-1h1v-6h-1v-1h-1v-1zM621 289h8v1h1v1h1v1h1v8h-1v1h-1v1h-1v1h-8v-1h-1v-1h-1v-1h-1v-8h1v-1h1v-1h1zM622 291v1h-1v1h-1v6h1v1h1v1h6v-1h1v-1h1v-6h-1v-1h-1v-1zM626 293h8v1h1v1h1v1h1v8h-1v1h-1v1h-1v1h-8v-1h-1v-1h-1v-1h-1v-8h1v-1h1v-1h1zM627 295v1h-1v1h-1v6h1v1h1v1h6v-1h1v-1h1v-6h-1v-1h-1v-1zM630 299h8v1h1v1h1v1h1v8h-1v1h-1v1h-1v1h-8v-1h-1v-1h-1v-1h-1v-8h1v-1h1v-1h1zM631 301v1h-1v1h-1v6h1v1h1v1h6v-1h1v-1h1v-6h-1v-1h-1v-1zM635 296h8v1h1v1h1v1h1v8h-1v1h-1v1h-1v1h-8v-1h-1v-1h-1v-1h-1v-8h1v-1h1v-1h1zM636 298v1h-1v1h-1v6h1v1h1v1h6v-1h1v-1h1v-6h-1v-1h-1v-1zM632 299h8v1h1v1h1v1h1v8h-1v1h-1v1h-1v1h-8v-1h-1v-1h-1v-1h-1v-8h1v-1h1v-1h1zM633 301v1h-1v1h-1v6h1v1h1v1h6v-1h1v-1h1v-6h-1v-1h-1v-1zM632 300h8v1h1v1h1v1h1v8h-1v1h-1v1h-1v1h-8v-1h-1v-1h-1v-1h-1v-8h1v-1h1v-1h1zM633 302v1h-1v1h-1v6h1v1h1v1h6v-1h1v-1h1v-6h-1v-1h-1v-1zM635 289h8v1h1v1h1v1h1v8h-1v1h-1v1h-1v1h-8v-1h-1v-1h-1v-1h-1v-8h1v-1h1v-1h1zM636 291v1h-1v1h-1v6h1v1h1v1h6v-1h1v-1h1v-6h-1v-1h-1v-1zM633 299h8v1h1v1h1v1h1v8h-1v1h-1v1h-1v1h-8v-1h-1v-1h-1v-1h-1v-8h1v-1h1v-1h1zM634 301v1h-1v1h-1v6h1v1h1v1h6v-1h1v-1h1v-6h-1v-1h-1v-1zM631 303h8v1h1v1h1v1h1v8h-1v1h-1v1h-1v1h-8v-1h-1v-1h-1v-1h-1v-8h1v-1h1v-1h1zM632 305v1h-1v1h-1v6h1v1h1v1h6v-1h1v-1h1v-6h-1v-1h-1v-1zM642 297h8v1h1v1h1v1h1v8h-1v1h-1v1h-1v1h-8v-1h-1v-1h-1v-1h-1v-8h1v-1h1v-1h1zM643 299v1h-1v1h-1v6h1v1h1v1h6v-1h1v-1h1v-6h-1v-1h-1v-1zM647 304h8v1h1v1h1v1h1v8h-1v1h-1v1h-1v1h-8v-1h-1v-1h-1v-1h-1v-8h1v-1h1v-1h1zM648 306v1h-1v1h-1v6h1v1h1v1h6v-1h1v-1h1v-6h-1v-1h-1v-1zM642 308h8v1h1v1h1v1h1v8h-1v1h-1v1h-1v1h-8v-1h-1v-1h-1v-1h-1v-8h1v-1h1v-1h1zM643 310v1h-1v1h-1v6h1v1h1v1h6v-1h1v-1h1v-6h-1v-1h-1v-1zM652 315h8v1h1v1h1v1h1v8h-1v1h-1v1h-1v1h-8v-1h-1v-1h-1v-1h-1v-8h1v-1h1v-1h1zM653 317v1h-1v1h-1v6h1v1h1v1h6v-1h1v-1h1v-6h-1v-1h-1v-1zM627 271h8v1h1v1h1v1h1v8h-1v1h-1v1h-1v1h-8v-1h-1v-1h-1v-1h-1v-8h1v-1h1v-1h1zM628 273v1h-1v1h-1v6h1v1h1v1h6v-1h1v-1h1v-6h-1v-1h-1v-1zM632 281h8v1h1v1h1v1h1v8h-1v1h-1v1h-1v1h-8v-1h-1v-1h-1v-1h-1v-8h1v-1h1v-1h1zM633 283v1h-1v1h-1v6h1v1h1v1h6v-1h1v-1h1v-6h-1v-1h-1v-1zM635 283h8v1h1v1h1v1h1v8h-1v1h-1v1h-1v1h-8v-1h-1v-1h-1v-1h-1v-8h1v-1h1v-1h1zM636 285v1h-1v1h-1v6h1v1h1v1h6v-1h1v-1h1v-6h-1v-1h-1v-1zM635 281h8v1h1v1h1v1h1v8h-1v1h-1v1h-1v1h-8v-1h-1v-1h-1v-1h-1v-8h1v-1h1v-1h1zM636 283v1h-1v1h-1v6h1v1h1v1h6v-1h1v-1h1v-6h-1v-1h-1v-1zM637 291h8v1h1v1h1v1h1v8h-1v1h-1v1h-1v1h-8v-1h-1v-1h-1v-1h-1v-8h1v-1h1v-1h1zM638 293v1h-1v1h-1v6h1v1h1v1h6v-1h1v-1h1v-6h-1v-1h-1v-1zM640 289h8v1h1v1h1v1h1v8h-1v1h-1v1h-1v1h-8v-1h-1v-1h-1v-1h-1v-8h1v-1h1v-1h1zM641 291v1h-1v1h-1v6h1v1h1v1h6v-1h1v-1h1v-6h-1v-1h-1v-1zM651 290h8v1h1v1h1v1h1v8h-1v1h-1v1h-1v1h-8v-1h-1v-1h-1v-1h-1v-8h1v-1h1v-1h1zM652 292v1h-1v1h-1v6h1v1h1v1h6v-1h1v-1h1v-6h-1v-1h-1v-1zM657 298h8v1h1v1h1v1h1v8h-1v1h-1v1h-1v1h-8v-1h-1v-1h-1v-1h-1v-8h1v-1h1v-1h1zM658 300v1h-1v1h-1v6h1v1h1v1h6v-1h1v-1h1v-6h-1v-1h-1v-1zM662 312h8v1h1v1h1v1h1v8h-1v1h-1v1h-1v1h-8v-1h-1v-1h-1v-1h-1v-8h1v-1h1v-1h1zM663 314v1h-1v1h-1v6h1v1h1v1h6v-1h1v-1h1v-6h-1v-1h-1v-1zM664 305h8v1h1v1h1v1h1v8h-1v1h-1v1h-1v1h-8v-1h-1v-1h-1v-1h-1v-8h1v-1h1v-1h1zM665 307v1h-1v1h-1v6h1v1h1v1h6v-1h1v-1h1v-6h-1v-1h-1v-1zM634 260h8v1h1v1h1v1h1v8h-1v1h-1v1h-1v1h-8v-1h-1v-1h-1v-1h-1v-8h1v-1h1v-1h1zM635 262v1h-1v1h-1v6h1v1h1v1h6v-1h1v-1h1v-6h-1v-1h-1v-1zM634 270h8v1h1v1h1v1h1v8h-1v1h-1v1h-1v1h-8v-1h-1v-1h-1v-1h-1v-8h1v-1h1v-1h1zM635 272v1h-1v1h-1v6h1v1h1v1h6v-1h1v-1h1v-6h-1v-1h-1v-1zM637 272h8v1h1v1h1v1h1v8h-1v1h-1v1h-1v1h-8v-1h-1v-1h-1v-1h-1v-8h1v-1h1v-1h1zM638 274v1h-1v1h-1v6h1v1h1v1h6v-1h1v-1h1v-6h-1v-1h-1v-1zM651 276h8v1h1v1h1v1h1v8h-1v1h-1v1h-1v1h-8v-1h-1v-1h-1v-1h-1v-8h1v-1h1v-1h1zM652 278v1h-1v1h-1v6h1v1h1v1h6v-1h1v-1h1v-6h-1v-1h-1v-1zM654 285h8v1h1v1h1v1h1v8h-1v1h-1v1h-1v1h-8v-1h-1v-1h-1v-1h-1v-8h1v-1h1v-1h1zM655 287v1h-1v1h-1v6h1v1h1v1h6v-1h1v-1h1v-6h-1v-1h-1v-1zM656 282h8v1h1v1h1v1h1v8h-1v1h-1v1h-1v1h-8v-1h-1v-1h-1v-1h-1v-8h1v-1h1v-1h1zM657 284v1h-1v1h-1v6h1v1h1v1h6v-1h1v-1h1v-6h-1v-1h-1v-1zM665 291h8v1h1v1h1v1h1v8h-1v1h-1v1h-1v1h-8v-1h-1v-1h-1v-1h-1v-8h1v-1h1v-1h1zM666 293v1h-1v1h-1v6h1v1h1v1h6v-1h1v-1h1v-6h-1v-1h-1v-1zM669 306h8v1h1v1h1v1h1v8h-1v1h-1v1h-1v1h-8v-1h-1v-1h-1v-1h-1v-8h1v-1h1v-1h1zM670 308v1h-1v1h-1v6h1v1h1v1h6v-1h1v-1h1v-6h-1v-1h-1v-1zM676 303h8v1h1v1h1v1h1v8h-1v1h-1v1h-1v1h-8v-1h-1v-1h-1v-1h-1v-8h1v-1h1v-1h1zM677 305v1h-1v1h-1v6h1v1h1v1h6v-1h1v-1h1v-6h-1v-1h-1v-1zM676 300h8v1h1v1h1v1h1v8h-1v1h-1v1h-1v1h-8v-1h-1v-1h-1v-1h-1v-8h1v-1h1v-1h1zM677 302v1h-1v1h-1v6h1v1h1v1h6v-1h1v-1h1v-6h-1v-1h-1v-1zM676 306h8v1h1v1h1v1h1v8h-1v1h-1v1h-1v1h-8v-1h-1v-1h-1v-1h-1v-8h1v-1h1v-1h1zM677 308v1h-1v1h-1v6h1v1h1v1h6v-1h1v-1h1v-6h-1v-1h-1v-1zM652 256h8v1h1v1h1v1h1v8h-1v1h-1v1h-1v1h-8v-1h-1v-1h-1v-1h-1v-8h1v-1h1v-1h1zM653 258v1h-1v1h-1v6h1v1h1v1h6v-1h1v-1h1v-6h-1v-1h-1v-1zM647 267h8v1h1v1h1v1h1v8h-1v1h-1v1h-1v1h-8v-1h-1v-1h-1v-1h-1v-8h1v-1h1v-1h1zM648 269v1h-1v1h-1v6h1v1h1v1h6v-1h1v-1h1v-6h-1v-1h-1v-1zM646 262h8v1h1v1h1v1h1v8h-1v1h-1v1h-1v1h-8v-1h-1v-1h-1v-1h-1v-8h1v-1h1v-1h1zM647 264v1h-1v1h-1v6h1v1h1v1h6v-1h1v-1h1v-6h-1v-1h-1v-1zM660 266h8v1h1v1h1v1h1v8h-1v1h-1v1h-1v1h-8v-1h-1v-1h-1v-1h-1v-8h1v-1h1v-1h1zM661 268v1h-1v1h-1v6h1v1h1v1h6v-1h1v-1h1v-6h-1v-1h-1v-1zM675 282h8v1h1v1h1v1h1v8h-1v1h-1v1h-1v1h-8v-1h-1v-1h-1v-1h-1v-8h1v-1h1v-1h1zM676 284v1h-1v1h-1v6h1v1h1v1h6v-1h1v-1h1v-6h-1v-1h-1v-1zM672 284h8v1h1v1h1v1h1v8h-1v1h-1v1h-1v1h-8v-1h-1v-1h-1v-1h-1v-8h1v-1h1v-1h1zM673 286v1h-1v1h-1v6h1v1h1v1h6v-1h1v-1h1v-6h-1v-1h-1v-1zM653 243h8v1h1v1h1v1h1v8h-1v1h-1v1h-1v1h-8v-1h-1v-1h-1v-1h-1v-8h1v-1h1v-1h1zM654 245v1h-1v1h-1v6h1v1h1v1h6v-1h1v-1h1v-6h-1v-1h-1v-1zM650 253h8v1h1v1h1v1h1v8h-1v1h-1v1h-1v1h-8v-1h-1v-1h-1v-1h-1v-8h1v-1h1v-1h1zM651 255v1h-1v1h-1v6h1v1h1v1h6v-1h1v-1h1v-6h-1v-1h-1v-1zM660 255h8v1h1v1h1v1h1v8h-1v1h-1v1h-1v1h-8v-1h-1v-1h-1v-1h-1v-8h1v-1h1v-1h1zM661 257v1h-1v1h-1v6h1v1h1v1h6v-1h1v-1h1v-6h-1v-1h-1v-1zM680 269h8v1h1v1h1v1h1v8h-1v1h-1v1h-1v1h-8v-1h-1v-1h-1v-1h-1v-8h1v-1h1v-1h1zM681 271v1h-1v1h-1v6h1v1h1v1h6v-1h1v-1h1v-6h-1v-1h-1v-1zM685 284h8v1h1v1h1v1h1v8h-1v1h-1v1h-1v1h-8v-1h-1v-1h-1v-1h-1v-8h1v-1h1v-1h1zM686 286v1h-1v1h-1v6h1v1h1v1h6v-1h1v-1h1v-6h-1v-1h-1v-1zM660 244h8v1h1v1h1v1h1v8h-1v1h-1v1h-1v1h-8v-1h-1v-1h-1v-1h-1v-8h1v-1h1v-1h1zM661 246v1h-1v1h-1v6h1v1h1v1h6v-1h1v-1h1v-6h-1v-1h-1v-1zM665 245h8v1h1v1h1v1h1v8h-1v1h-1v1h-1v1h-8v-1h-1v-1h-1v-1h-1v-8h1v-1h1v-1h1zM666 247v1h-1v1h-1v6h1v1h1v1h6v-1h1v-1h1v-6h-1v-1h-1v-1zM667 244h8v1h1v1h1v1h1v8h-1v1h-1v1h-1v1h-8v-1h-1v-1h-1v-1h-1v-8h1v-1h1v-1h1zM668 246v1h-1v1h-1v6h1v1h1v1h6v-1h1v-1h1v-6h-1v-1h-1v-1zM665 252h8v1h1v1h1v1h1v8h-1v1h-1v1h-1v1h-8v-1h-1v-1h-1v-1h-1v-8h1v-1h1v-1h1zM666 254v1h-1v1h-1v6h1v1h1v1h6v-1h1v-1h1v-6h-1v-1h-1v-1zM673 244h8v1h1v1h1v1h1v8h-1v1h-1v1h-1v1h-8v-1h-1v-1h-1v-1h-1v-8h1v-1h1v-1h1zM674 246v1h-1v1h-1v6h1v1h1v1h6v-1h1v-1h1v-6h-1v-1h-1v-1zM685 255h8v1h1v1h1v1h1v8h-1v1h-1v1h-1v1h-8v-1h-1v-1h-1v-1h-1v-8h1v-1h1v-1h1zM686 257v1h-1v1h-1v6h1v1h1v1h6v-1h1v-1h1v-6h-1v-1h-1v-1zM675 258h8v1h1v1h1v1h1v8h-1v1h-1v1h-1v1h-8v-1h-1v-1h-1v-1h-1v-8h1v-1h1v-1h1zM676 260v1h-1v1h-1v6h1v1h1v1h6v-1h1v-1h1v-6h-1v-1h-1v-1zM676 258h8v1h1v1h1v1h1v8h-1v1h-1v1h-1v1h-8v-1h-1v-1h-1v-1h-1v-8h1v-1h1v-1h1zM677 260v1h-1v1h-1v6h1v1h1v1h6v-1h1v-1h1v-6h-1v-1h-1v-1zM679 264h8v1h1v1h1v1h1v8h-1v1h-1v1h-1v1h-8v-1h-1v-1h-1v-1h-1v-8h1v-1h1v-1h1zM680 266v1h-1v1h-1v6h1v1h1v1h6v-1h1v-1h1v-6h-1v-1h-1v-1zM686 261h8v1h1v1h1v1h1v8h-1v1h-1v1h-1v1h-8v-1h-1v-1h-1v-1h-1v-8h1v-1h1v-1h1zM687 263v1h-1v1h-1v6h1v1h1v1h6v-1h1v-1h1v-6h-1v-1h-1v-1zM695 269h8v1h1v1h1v1h1v8h-1v1h-1v1h-1v1h-8v-1h-1v-1h-1v-1h-1v-8h1v-1h1v-1h1zM696 271v1h-1v1h-1v6h1v1h1v1h6v-1h1v-1h1v-6h-1v-1h-1v-1zM695 266h8v1h1v1h1v1h1v8h-1v1h-1v1h-1v1h-8v-1h-1v-1h-1v-1h-1v-8h1v-1h1v-1h1zM696 268v1h-1v1h-1v6h1v1h1v1h6v-1h1v-1h1v-6h-1v-1h-1v-1zM689 273h8v1h1v1h1v1h1v8h-1v1h-1v1h-1v1h-8v-1h-1v-1h-1v-1h-1v-8h1v-1h1v-1h1zM690 275v1h-1v1h-1v6h1v1h1v1h6v-1h1v-1h1v-6h-1v-1h-1v-1zM667 222h8v1h1v1h1v1h1v8h-1v1h-1v1h-1v1h-8v-1h-1v-1h-1v-1h-1v-8h1v-1h1v-1h1zM668 224v1h-1v1h-1v6h1v1h1v1h6v-1h1v-1h1v-6h-1v-1h-1v-1zM661 229h8v1h1v1h1v1h1v8h-1v1h-1v1h-1v1h-8v-1h-1v-1h-1v-1h-1v-8h1v-1h1v-1h1zM662 231v1h-1v1h-1v6h1v1h1v1h6v-1h1v-1h1v-6h-1v-1h-1v-1zM667 232h8v1h1v1h1v1h1v8h-1v1h-1v1h-1v1h-8v-1h-1v-1h-1v-1h-1v-8h1v-1h1v-1h1zM668 234v1h-1v1h-1v6h1v1h1v1h6v-1h1v-1h1v-6h-1v-1h-1v-1zM676 233h8v1h1v1h1v1h1v8h-1v1h-1v1h-1v1h-8v-1h-1v-1h-1v-1h-1v-8h1v-1h1v-1h1zM677 235v1h-1v1h-1v6h1v1h1v1h6v-1h1v-1h1v-6h-1v-1h-1v-1zM682 241h8v1h1v1h1v1h1v8h-1v1h-1v1h-1v1h-8v-1h-1v-1h-1v-1h-1v-8h1v-1h1v-1h1zM683 243v1h-1v1h-1v6h1v1h1v1h6v-1h1v-1h1v-6h-1v-1h-1v-1zM680 237h8v1h1v1h1v1h1v8h-1v1h-1v1h-1v1h-8v-1h-1v-1h-1v-1h-1v-8h1v-1h1v-1h1zM681 239v1h-1v1h-1v6h1v1h1v1h6v-1h1v-1h1v-6h-1v-1h-1v-1zM676 246h8v1h1v1h1v1h1v8h-1v1h-1v1h-1v1h-8v-1h-1v-1h-1v-1h-1v-8h1v-1h1v-1h1zM677 248v1h-1v1h-1v6h1v1h1v1h6v-1h1v-1h1v-6h-1v-1h-1v-1zM684 244h8v1h1v1h1v1h1v8h-1v1h-1v1h-1v1h-8v-1h-1v-1h-1v-1h-1v-8h1v-1h1v-1h1zM685 246v1h-1v1h-1v6h1v1h1v1h6v-1h1v-1h1v-6h-1v-1h-1v-1zM684 251h8v1h1v1h1v1h1v8h-1v1h-1v1h-1v1h-8v-1h-1v-1h-1v-1h-1v-8h1v-1h1v-1h1zM685 253v1h-1v1h-1v6h1v1h1v1h6v-1h1v-1h1v-6h-1v-1h-1v-1zM688 252h8v1h1v1h1v1h1v8h-1v1h-1v1h-1v1h-8v-1h-1v-1h-1v-1h-1v-8h1v-1h1v-1h1zM689 254v1h-1v1h-1v6h1v1h1v1h6v-1h1v-1h1v-6h-1v-1h-1v-1zM689 252h8v1h1v1h1v1h1v8h-1v1h-1v1h-1v1h-8v-1h-1v-1h-1v-1h-1v-8h1v-1h1v-1h1zM690 254v1h-1v1h-1v6h1v1h1v1h6v-1h1v-1h1v-6h-1v-1h-1v-1zM692 261h8v1h1v1h1v1h1v8h-1v1h-1v1h-1v1h-8v-1h-1v-1h-1v-1h-1v-8h1v-1h1v-1h1zM693 263v1h-1v1h-1v6h1v1h1v1h6v-1h1v-1h1v-6h-1v-1h-1v-1zM685 227h8v1h1v1h1v1h1v8h-1v1h-1v1h-1v1h-8v-1h-1v-1h-1v-1h-1v-8h1v-1h1v-1h1zM686 229v1h-1v1h-1v6h1v1h1v1h6v-1h1v-1h1v-6h-1v-1h-1v-1zM690 228h8v1h1v1h1v1h1v8h-1v1h-1v1h-1v1h-8v-1h-1v-1h-1v-1h-1v-8h1v-1h1v-1h1zM691 230v1h-1v1h-1v6h1v1h1v1h6v-1h1v-1h1v-6h-1v-1h-1v-1zM692 237h8v1h1v1h1v1h1v8h-1v1h-1v1h-1v1h-8v-1h-1v-1h-1v-1h-1v-8h1v-1h1v-1h1zM693 239v1h-1v1h-1v6h1v1h1v1h6v-1h1v-1h1v-6h-1v-1h-1v-1zM699 239h8v1h1v1h1v1h1v8h-1v1h-1v1h-1v1h-8v-1h-1v-1h-1v-1h-1v-8h1v-1h1v-1h1zM700 241v1h-1v1h-1v6h1v1h1v1h6v-1h1v-1h1v-6h-1v-1h-1v-1zM699 236h8v1h1v1h1v1h1v8h-1v1h-1v1h-1v1h-8v-1h-1v-1h-1v-1h-1v-8h1v-1h1v-1h1zM700 238v1h-1v1h-1v6h1v1h1v1h6v-1h1v-1h1v-6h-1v-1h-1v-1zM705 246h8v1h1v1h1v1h1v8h-1v1h-1v1h-1v1h-8v-1h-1v-1h-1v-1h-1v-8h1v-1h1v-1h1zM706 248v1h-1v1h-1v6h1v1h1v1h6v-1h1v-1h1v-6h-1v-1h-1v-1zM709 246h8v1h1v1h1v1h1v8h-1v1h-1v1h-1v1h-8v-1h-1v-1h-1v-1h-1v-8h1v-1h1v-1h1zM710 248v1h-1v1h-1v6h1v1h1v1h6v-1h1v-1h1v-6h-1v-1h-1v-1zM695 218h8v1h1v1h1v1h1v8h-1v1h-1v1h-1v1h-8v-1h-1v-1h-1v-1h-1v-8h1v-1h1v-1h1zM696 220v1h-1v1h-1v6h1v1h1v1h6v-1h1v-1h1v-6h-1v-1h-1v-1zM690 218h8v1h1v1h1v1h1v8h-1v1h-1v1h-1v1h-8v-1h-1v-1h-1v-1h-1v-8h1v-1h1v-1h1zM691 220v1h-1v1h-1v6h1v1h1v1h6v-1h1v-1h1v-6h-1v-1h-1v-1zM696 222h8v1h1v1h1v1h1v8h-1v1h-1v1h-1v1h-8v-1h-1v-1h-1v-1h-1v-8h1v-1h1v-1h1zM697 224v1h-1v1h-1v6h1v1h1v1h6v-1h1v-1h1v-6h-1v-1h-1v-1zM707 227h8v1h1v1h1v1h1v8h-1v1h-1v1h-1v1h-8v-1h-1v-1h-1v-1h-1v-8h1v-1h1v-1h1zM708 229v1h-1v1h-1v6h1v1h1v1h6v-1h1v-1h1v-6h-1v-1h-1v-1zM707 238h8v1h1v1h1v1h1v8h-1v1h-1v1h-1v1h-8v-1h-1v-1h-1v-1h-1v-8h1v-1h1v-1h1zM708 240v1h-1v1h-1v6h1v1h1v1h6v-1h1v-1h1v-6h-1v-1h-1v-1zM698 216h8v1h1v1h1v1h1v8h-1v1h-1v1h-1v1h-8v-1h-1v-1h-1v-1h-1v-8h1v-1h1v-1h1zM699 218v1h-1v1h-1v6h1v1h1v1h6v-1h1v-1h1v-6h-1v-1h-1v-1zM719 223h8v1h1v1h1v1h1v8h-1v1h-1v1h-1v1h-8v-1h-1v-1h-1v-1h-1v-8h1v-1h1v-1h1zM720 225v1h-1v1h-1v6h1v1h1v1h6v-1h1v-1h1v-6h-1v-1h-1v-1zM727 236h8v1h1v1h1v1h1v8h-1v1h-1v1h-1v1h-8v-1h-1v-1h-1v-1h-1v-8h1v-1h1v-1h1zM728 238v1h-1v1h-1v6h1v1h1v1h6v-1h1v-1h1v-6h-1v-1h-1v-1zM706 196h8v1h1v1h1v1h1v8h-1v1h-1v1h-1v1h-8v-1h-1v-1h-1v-1h-1v-8h1v-1h1v-1h1zM707 198v1h-1v1h-1v6h1v1h1v1h6v-1h1v-1h1v-6h-1v-1h-1v-1zM727 227h8v1h1v1h1v1h1v8h-1v1h-1v1h-1v1h-8v-1h-1v-1h-1v-1h-1v-8h1v-1h1v-1h1zM728 229v1h-1v1h-1v6h1v1h1v1h6v-1h1v-1h1v-6h-1v-1h-1v-1zM717 191h8v1h1v1h1v1h1v8h-1v1h-1v1h-1v1h-8v-1h-1v-1h-1v-1h-1v-8h1v-1h1v-1h1zM718 193v1h-1v1h-1v6h1v1h1v1h6v-1h1v-1h1v-6h-1v-1h-1v-1zM713 196h8v1h1v1h1v1h1v8h-1v1h-1v1h-1v1h-8v-1h-1v-1h-1v-1h-1v-8h1v-1h1v-1h1zM714 198v1h-1v1h-1v6h1v1h1v1h6v-1h1v-1h1v-6h-1v-1h-1v-1zM715 195h8v1h1v1h1v1h1v8h-1v1h-1v1h-1v1h-8v-1h-1v-1h-1v-1h-1v-8h1v-1h1v-1h1zM716 197v1h-1v1h-1v6h1v1h1v1h6v-1h1v-1h1v-6h-1v-1h-1v-1zM726 205h8v1h1v1h1v1h1v8h-1v1h-1v1h-1v1h-8v-1h-1v-1h-1v-1h-1v-8h1v-1h1v-1h1zM727 207v1h-1v1h-1v6h1v1h1v1h6v-1h1v-1h1v-6h-1v-1h-1v-1zM732 200h8v1h1v1h1v1h1v8h-1v1h-1v1h-1v1h-8v-1h-1v-1h-1v-1h-1v-8h1v-1h1v-1h1zM733 202v1h-1v1h-1v6h1v1h1v1h6v-1h1v-1h1v-6h-1v-1h-1v-1zM733 203h8v1h1v1h1v1h1v8h-1v1h-1v1h-1v1h-8v-1h-1v-1h-1v-1h-1v-8h1v-1h1v-1h1zM734 205v1h-1v1h-1v6h1v1h1v1h6v-1h1v-1h1v-6h-1v-1h-1v-1zM728 208h8v1h1v1h1v1h1v8h-1v1h-1v1h-1v1h-8v-1h-1v-1h-1v-1h-1v-8h1v-1h1v-1h1zM729 210v1h-1v1h-1v6h1v1h1v1h6v-1h1v-1h1v-6h-1v-1h-1v-1zM731 209h8v1h1v1h1v1h1v8h-1v1h-1v1h-1v1h-8v-1h-1v-1h-1v-1h-1v-8h1v-1h1v-1h1zM732 211v1h-1v1h-1v6h1v1h1v1h6v-1h1v-1h1v-6h-1v-1h-1v-1zM732 209h8v1h1v1h1v1h1v8h-1v1h-1v1h-1v1h-8v-1h-1v-1h-1v-1h-1v-8h1v-1h1v-1h1zM733 211v1h-1v1h-1v6h1v1h1v1h6v-1h1v-1h1v-6h-1v-1h-1v-1zM734 207h8v1h1v1h1v1h1v8h-1v1h-1v1h-1v1h-8v-1h-1v-1h-1v-1h-1v-8h1v-1h1v-1h1zM735 209v1h-1v1h-1v6h1v1h1v1h6v-1h1v-1h1v-6h-1v-1h-1v-1zM713 177h8v1h1v1h1v1h1v8h-1v1h-1v1h-1v1h-8v-1h-1v-1h-1v-1h-1v-8h1v-1h1v-1h1zM714 179v1h-1v1h-1v6h1v1h1v1h6v-1h1v-1h1v-6h-1v-1h-1v-1zM743 200h8v1h1v1h1v1h1v8h-1v1h-1v1h-1v1h-8v-1h-1v-1h-1v-1h-1v-8h1v-1h1v-1h1zM744 202v1h-1v1h-1v6h1v1h1v1h6v-1h1v-1h1v-6h-1v-1h-1v-1zM725 175h8v1h1v1h1v1h1v8h-1v1h-1v1h-1v1h-8v-1h-1v-1h-1v-1h-1v-8h1v-1h1v-1h1zM726 177v1h-1v1h-1v6h1v1h1v1h6v-1h1v-1h1v-6h-1v-1h-1v-1zM737 187h8v1h1v1h1v1h1v8h-1v1h-1v1h-1v1h-8v-1h-1v-1h-1v-1h-1v-8h1v-1h1v-1h1zM738 189v1h-1v1h-1v6h1v1h1v1h6v-1h1v-1h1v-6h-1v-1h-1v-1zM756 191h8v1h1v1h1v1h1v8h-1v1h-1v1h-1v1h-8v-1h-1v-1h-1v-1h-1v-8h1v-1h1v-1h1zM757 193v1h-1v1h-1v6h1v1h1v1h6v-1h1v-1h1v-6h-1v-1h-1v-1zM763 200h8v1h1v1h1v1h1v8h-1v1h-1v1h-1v1h-8v-1h-1v-1h-1v-1h-1v-8h1v-1h1v-1h1zM764 202v1h-1v1h-1v6h1v1h1v1h6v-1h1v-1h1v-6h-1v-1h-1v-1zM753 173h8v1h1v1h1v1h1v8h-1v1h-1v1h-1v1h-8v-1h-1v-1h-1v-1h-1v-8h1v-1h1v-1h1zM754 175v1h-1v1h-1v6h1v1h1v1h6v-1h1v-1h1v-6h-1v-1h-1v-1zM748 180h8v1h1v1h1v1h1v8h-1v1h-1v1h-1v1h-8v-1h-1v-1h-1v-1h-1v-8h1v-1h1v-1h1zM749 182v1h-1v1h-1v6h1v1h1v1h6v-1h1v-1h1v-6h-1v-1h-1v-1zM762 180h8v1h1v1h1v1h1v8h-1v1h-1v1h-1v1h-8v-1h-1v-1h-1v-1h-1v-8h1v-1h1v-1h1zM763 182v1h-1v1h-1v6h1v1h1v1h6v-1h1v-1h1v-6h-1v-1h-1v-1zM763 182h8v1h1v1h1v1h1v8h-1v1h-1v1h-1v1h-8v-1h-1v-1h-1v-1h-1v-8h1v-1h1v-1h1zM764 184v1h-1v1h-1v6h1v1h1v1h6v-1h1v-1h1v-6h-1v-1h-1v-1zM748 162h8v1h1v1h1v1h1v8h-1v1h-1v1h-1v1h-8v-1h-1v-1h-1v-1h-1v-8h1v-1h1v-1h1zM749 164v1h-1v1h-1v6h1v1h1v1h6v-1h1v-1h1v-6h-1v-1h-1v-1zM765 166h8v1h1v1h1v1h1v8h-1v1h-1v1h-1v1h-8v-1h-1v-1h-1v-1h-1v-8h1v-1h1v-1h1zM766 168v1h-1v1h-1v6h1v1h1v1h6v-1h1v-1h1v-6h-1v-1h-1v-1zM756 173h8v1h1v1h1v1h1v8h-1v1h-1v1h-1v1h-8v-1h-1v-1h-1v-1h-1v-8h1v-1h1v-1h1zM757 175v1h-1v1h-1v6h1v1h1v1h6v-1h1v-1h1v-6h-1v-1h-1v-1zM757 167h8v1h1v1h1v1h1v8h-1v1h-1v1h-1v1h-8v-1h-1v-1h-1v-1h-1v-8h1v-1h1v-1h1zM758 169v1h-1v1h-1v6h1v1h1v1h6v-1h1v-1h1v-6h-1v-1h-1v-1zM762 176h8v1h1v1h1v1h1v8h-1v1h-1v1h-1v1h-8v-1h-1v-1h-1v-1h-1v-8h1v-1h1v-1h1zM763 178v1h-1v1h-1v6h1v1h1v1h6v-1h1v-1h1v-6h-1v-1h-1v-1zM766 167h8v1h1v1h1v1h1v8h-1v1h-1v1h-1v1h-8v-1h-1v-1h-1v-1h-1v-8h1v-1h1v-1h1zM767 169v1h-1v1h-1v6h1v1h1v1h6v-1h1v-1h1v-6h-1v-1h-1v-1zM761 177h8v1h1v1h1v1h1v8h-1v1h-1v1h-1v1h-8v-1h-1v-1h-1v-1h-1v-8h1v-1h1v-1h1zM762 179v1h-1v1h-1v6h1v1h1v1h6v-1h1v-1h1v-6h-1v-1h-1v-1zM774 182h8v1h1v1h1v1h1v8h-1v1h-1v1h-1v1h-8v-1h-1v-1h-1v-1h-1v-8h1v-1h1v-1h1zM775 184v1h-1v1h-1v6h1v1h1v1h6v-1h1v-1h1v-6h-1v-1h-1v-1zM759 149h8v1h1v1h1v1h1v8h-1v1h-1v1h-1v1h-8v-1h-1v-1h-1v-1h-1v-8h1v-1h1v-1h1zM760 151v1h-1v1h-1v6h1v1h1v1h6v-1h1v-1h1v-6h-1v-1h-1v-1zM762 153h8v1h1v1h1v1h1v8h-1v1h-1v1h-1v1h-8v-1h-1v-1h-1v-1h-1v-8h1v-1h1v-1h1zM763 155v1h-1v1h-1v6h1v1h1v1h6v-1h1v-1h1v-6h-1v-1h-1v-1zM771 167h8v1h1v1h1v1h1v8h-1v1h-1v1h-1v1h-8v-1h-1v-1h-1v-1h-1v-8h1v-1h1v-1h1zM772 169v1h-1v1h-1v6h1v1h1v1h6v-1h1v-1h1v-6h-1v-1h-1v-1zM774 163h8v1h1v1h1v1h1v8h-1v1h-1v1h-1v1h-8v-1h-1v-1h-1v-1h-1v-8h1v-1h1v-1h1zM775 165v1h-1v1h-1v6h1v1h1v1h6v-1h1v-1h1v-6h-1v-1h-1v-1zM775 166h8v1h1v1h1v1h1v8h-1v1h-1v1h-1v1h-8v-1h-1v-1h-1v-1h-1v-8h1v-1h1v-1h1zM776 168v1h-1v1h-1v6h1v1h1v1h6v-1h1v-1h1v-6h-1v-1h-1v-1zM779 174h8v1h1v1h1v1h1v8h-1v1h-1v1h-1v1h-8v-1h-1v-1h-1v-1h-1v-8h1v-1h1v-1h1zM780 176v1h-1v1h-1v6h1v1h1v1h6v-1h1v-1h1v-6h-1v-1h-1v-1z"/></g>
<defs><clipPath id="pc"><rect x="172" y="38" width="749" height="749"/></clipPath></defs>
<rect x="172" y="38" width="749" height="749" fill="none" stroke="#000" stroke-width="2" shape-rendering="crispEdges"/>
<line x1="173.1" y1="768.3" x2="903.2" y2="38" stroke="#f00" stroke-width="4.2" shape-rendering="crispEdges" clip-path="url(#pc)"/>
<g stroke="#000" stroke-width="2" shape-rendering="crispEdges">
<line x1="302" y1="787" x2="302" y2="807"/>
<line x1="463" y1="787" x2="463" y2="807"/>
<line x1="625" y1="787" x2="625" y2="807"/>
<line x1="786" y1="787" x2="786" y2="807"/>
<line x1="153" y1="154" x2="172" y2="154"/>
<line x1="153" y1="315" x2="172" y2="315"/>
<line x1="153" y1="477" x2="172" y2="477"/>
<line x1="153" y1="638" x2="172" y2="638"/>
</g>
<g text-anchor="middle">
<text x="302" y="857">-2</text>
<text x="463" y="857">0</text>
<text x="625" y="857">2</text>
<text x="786" y="857">4</text>
<text x="546" y="933">Observed Qg</text>
<text transform="translate(127,154) rotate(-90)">4</text>
<text transform="translate(127,315.5) rotate(-90)">2</text>
<text transform="translate(127,477) rotate(-90)">0</text>
<text transform="translate(127,638.5) rotate(-90)">-2</text>
<text transform="translate(50,411.5) rotate(-90)" style="font-size:32px">Expected Qg</text>
</g>
<line x1="200" y1="76" x2="261" y2="76" stroke="#f00" stroke-width="4" shape-rendering="crispEdges"/>
<text x="287" y="89">1:1</text>
</svg>
</body></html>
